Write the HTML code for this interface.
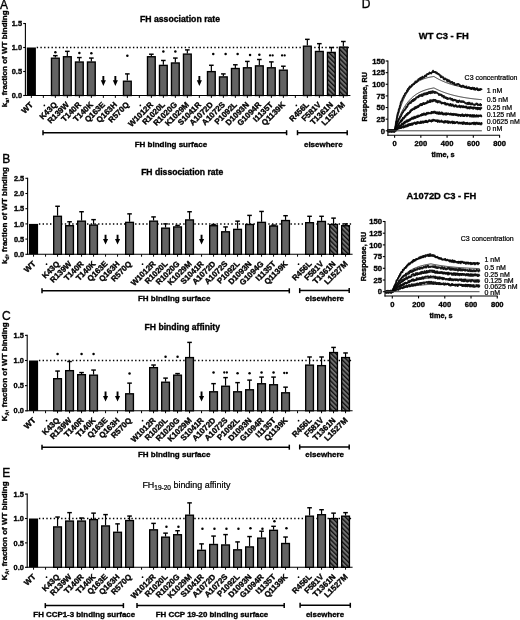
<!DOCTYPE html><html><head><meta charset="utf-8"><style>html,body{margin:0;padding:0;background:#fff;}svg{display:block;filter:grayscale(1) blur(0.3px);}text{font-family:"Liberation Sans", sans-serif;fill:#000;}text[font-weight="bold"]{stroke:#000;stroke-width:0.34px;} text[font-weight="normal"]{stroke:#000;stroke-width:0.22px;} text.big{stroke:#000;stroke-width:0.35px;}</style></head><body>
<svg width="520" height="620" viewBox="0 0 520 620">
<defs><pattern id="hatch" patternUnits="userSpaceOnUse" width="3.3" height="3.3" patternTransform="rotate(-45)"><rect width="3.3" height="3.3" fill="#707070"/><rect width="1.35" height="3.3" fill="#111"/></pattern></defs>
<rect width="520" height="620" fill="#fff"/>
<line x1="25.4" y1="23.00" x2="25.4" y2="96.00" stroke="#000" stroke-width="1.1"/>
<line x1="23.2" y1="95.50" x2="25.4" y2="95.50" stroke="#000" stroke-width="1.1"/>
<text x="22.00" y="98.10" font-size="7.4" font-weight="bold" text-anchor="end">0.0</text>
<line x1="23.2" y1="71.50" x2="25.4" y2="71.50" stroke="#000" stroke-width="1.1"/>
<text x="22.00" y="74.10" font-size="7.4" font-weight="bold" text-anchor="end">0.5</text>
<line x1="23.2" y1="47.50" x2="25.4" y2="47.50" stroke="#000" stroke-width="1.1"/>
<text x="22.00" y="50.10" font-size="7.4" font-weight="bold" text-anchor="end">1.0</text>
<line x1="23.2" y1="23.50" x2="25.4" y2="23.50" stroke="#000" stroke-width="1.1"/>
<text x="22.00" y="26.10" font-size="7.4" font-weight="bold" text-anchor="end">1.5</text>
<line x1="24.9" y1="95.50" x2="350.40" y2="95.50" stroke="#000" stroke-width="1.1"/>
<line x1="36.70" y1="47.50" x2="348.90" y2="47.50" stroke="#000" stroke-width="1.5" stroke-dasharray="1.4 2.3"/>
<line x1="31.35" y1="95.50" x2="31.35" y2="97.90" stroke="#000" stroke-width="1"/>
<text x="33.55" y="105.20" font-size="8.0" font-weight="bold" text-anchor="end" transform="rotate(-45 33.55 105.20)">WT</text>
<rect x="26.80" y="47.50" width="9.10" height="48.00" fill="#000"/>
<line x1="43.35" y1="95.50" x2="43.35" y2="97.90" stroke="#000" stroke-width="1"/>
<circle cx="44.35" cy="105.40" r="0.85" fill="#000"/>
<line x1="55.35" y1="95.50" x2="55.35" y2="97.90" stroke="#000" stroke-width="1"/>
<text x="57.55" y="105.20" font-size="8.0" font-weight="bold" text-anchor="end" transform="rotate(-45 57.55 105.20)">K43Q</text>
<line x1="55.35" y1="57.58" x2="55.35" y2="55.66" stroke="#000" stroke-width="1.2"/>
<line x1="53.05" y1="55.66" x2="57.65" y2="55.66" stroke="#000" stroke-width="1.45"/>
<rect x="51.48" y="58.18" width="7.74" height="37.32" fill="#636363" stroke="#000" stroke-width="1.36"/>
<circle cx="55.35" cy="52.20" r="1.25" fill="#000"/>
<line x1="67.35" y1="95.50" x2="67.35" y2="97.90" stroke="#000" stroke-width="1"/>
<text x="69.55" y="105.20" font-size="8.0" font-weight="bold" text-anchor="end" transform="rotate(-45 69.55 105.20)">R139W</text>
<line x1="67.35" y1="56.14" x2="67.35" y2="51.34" stroke="#000" stroke-width="1.2"/>
<line x1="65.05" y1="51.34" x2="69.65" y2="51.34" stroke="#000" stroke-width="1.45"/>
<rect x="63.48" y="56.74" width="7.74" height="38.76" fill="#636363" stroke="#000" stroke-width="1.36"/>
<line x1="79.35" y1="95.50" x2="79.35" y2="97.90" stroke="#000" stroke-width="1"/>
<text x="81.55" y="105.20" font-size="8.0" font-weight="bold" text-anchor="end" transform="rotate(-45 81.55 105.20)">T140R</text>
<line x1="79.35" y1="61.42" x2="79.35" y2="57.58" stroke="#000" stroke-width="1.2"/>
<line x1="77.05" y1="57.58" x2="81.65" y2="57.58" stroke="#000" stroke-width="1.45"/>
<rect x="75.48" y="62.02" width="7.74" height="33.48" fill="#636363" stroke="#000" stroke-width="1.36"/>
<circle cx="79.35" cy="53.00" r="1.25" fill="#000"/>
<line x1="91.35" y1="95.50" x2="91.35" y2="97.90" stroke="#000" stroke-width="1"/>
<text x="93.55" y="105.20" font-size="8.0" font-weight="bold" text-anchor="end" transform="rotate(-45 93.55 105.20)">T140K</text>
<line x1="91.35" y1="61.42" x2="91.35" y2="58.06" stroke="#000" stroke-width="1.2"/>
<line x1="89.05" y1="58.06" x2="93.65" y2="58.06" stroke="#000" stroke-width="1.45"/>
<rect x="87.48" y="62.02" width="7.74" height="33.48" fill="#636363" stroke="#000" stroke-width="1.36"/>
<circle cx="91.35" cy="53.30" r="1.25" fill="#000"/>
<line x1="103.35" y1="95.50" x2="103.35" y2="97.90" stroke="#000" stroke-width="1"/>
<text x="105.55" y="105.20" font-size="8.0" font-weight="bold" text-anchor="end" transform="rotate(-45 105.55 105.20)">Q163E</text>
<path d="M102.40 76.00 h1.9 v4.3 h1.6 l-2.55 5.6 l-2.55 -5.6 h1.6 z" fill="#000"/>
<line x1="115.35" y1="95.50" x2="115.35" y2="97.90" stroke="#000" stroke-width="1"/>
<text x="117.55" y="105.20" font-size="8.0" font-weight="bold" text-anchor="end" transform="rotate(-45 117.55 105.20)">Q163H</text>
<path d="M114.40 76.00 h1.9 v4.3 h1.6 l-2.55 5.6 l-2.55 -5.6 h1.6 z" fill="#000"/>
<line x1="127.35" y1="95.50" x2="127.35" y2="97.90" stroke="#000" stroke-width="1"/>
<text x="129.55" y="105.20" font-size="8.0" font-weight="bold" text-anchor="end" transform="rotate(-45 129.55 105.20)">R570Q</text>
<line x1="127.35" y1="80.62" x2="127.35" y2="73.90" stroke="#000" stroke-width="1.2"/>
<line x1="125.05" y1="73.90" x2="129.65" y2="73.90" stroke="#000" stroke-width="1.45"/>
<rect x="123.48" y="81.22" width="7.74" height="14.28" fill="#636363" stroke="#000" stroke-width="1.36"/>
<circle cx="127.35" cy="55.80" r="1.25" fill="#000"/>
<line x1="139.35" y1="95.50" x2="139.35" y2="97.90" stroke="#000" stroke-width="1"/>
<circle cx="140.35" cy="105.40" r="0.85" fill="#000"/>
<line x1="151.35" y1="95.50" x2="151.35" y2="97.90" stroke="#000" stroke-width="1"/>
<text x="153.55" y="105.20" font-size="8.0" font-weight="bold" text-anchor="end" transform="rotate(-45 153.55 105.20)">W1012R</text>
<line x1="151.35" y1="56.14" x2="151.35" y2="54.22" stroke="#000" stroke-width="1.2"/>
<line x1="149.05" y1="54.22" x2="153.65" y2="54.22" stroke="#000" stroke-width="1.45"/>
<rect x="147.48" y="56.74" width="7.74" height="38.76" fill="#636363" stroke="#000" stroke-width="1.36"/>
<line x1="163.35" y1="95.50" x2="163.35" y2="97.90" stroke="#000" stroke-width="1"/>
<text x="165.55" y="105.20" font-size="8.0" font-weight="bold" text-anchor="end" transform="rotate(-45 165.55 105.20)">R1020L</text>
<line x1="163.35" y1="64.78" x2="163.35" y2="60.46" stroke="#000" stroke-width="1.2"/>
<line x1="161.05" y1="60.46" x2="165.65" y2="60.46" stroke="#000" stroke-width="1.45"/>
<rect x="159.48" y="65.38" width="7.74" height="30.12" fill="#636363" stroke="#000" stroke-width="1.36"/>
<circle cx="163.35" cy="51.50" r="1.25" fill="#000"/>
<line x1="175.35" y1="95.50" x2="175.35" y2="97.90" stroke="#000" stroke-width="1"/>
<text x="177.55" y="105.20" font-size="8.0" font-weight="bold" text-anchor="end" transform="rotate(-45 177.55 105.20)">R1020G</text>
<line x1="175.35" y1="62.38" x2="175.35" y2="58.06" stroke="#000" stroke-width="1.2"/>
<line x1="173.05" y1="58.06" x2="177.65" y2="58.06" stroke="#000" stroke-width="1.45"/>
<rect x="171.48" y="62.98" width="7.74" height="32.52" fill="#636363" stroke="#000" stroke-width="1.36"/>
<circle cx="175.35" cy="51.50" r="1.25" fill="#000"/>
<line x1="187.35" y1="95.50" x2="187.35" y2="97.90" stroke="#000" stroke-width="1"/>
<text x="189.55" y="105.20" font-size="8.0" font-weight="bold" text-anchor="end" transform="rotate(-45 189.55 105.20)">K1029M</text>
<line x1="187.35" y1="53.50" x2="187.35" y2="49.90" stroke="#000" stroke-width="1.2"/>
<line x1="185.05" y1="49.90" x2="189.65" y2="49.90" stroke="#000" stroke-width="1.45"/>
<rect x="183.48" y="54.10" width="7.74" height="41.40" fill="#636363" stroke="#000" stroke-width="1.36"/>
<line x1="199.35" y1="95.50" x2="199.35" y2="97.90" stroke="#000" stroke-width="1"/>
<text x="201.55" y="105.20" font-size="8.0" font-weight="bold" text-anchor="end" transform="rotate(-45 201.55 105.20)">S1041R</text>
<path d="M198.40 76.00 h1.9 v4.3 h1.6 l-2.55 5.6 l-2.55 -5.6 h1.6 z" fill="#000"/>
<line x1="211.35" y1="95.50" x2="211.35" y2="97.90" stroke="#000" stroke-width="1"/>
<text x="213.55" y="105.20" font-size="8.0" font-weight="bold" text-anchor="end" transform="rotate(-45 213.55 105.20)">A1072D</text>
<line x1="211.35" y1="71.02" x2="211.35" y2="65.26" stroke="#000" stroke-width="1.2"/>
<line x1="209.05" y1="65.26" x2="213.65" y2="65.26" stroke="#000" stroke-width="1.45"/>
<rect x="207.48" y="71.62" width="7.74" height="23.88" fill="#636363" stroke="#000" stroke-width="1.36"/>
<circle cx="213.25" cy="54.10" r="1.25" fill="#000"/>
<line x1="223.35" y1="95.50" x2="223.35" y2="97.90" stroke="#000" stroke-width="1"/>
<text x="225.55" y="105.20" font-size="8.0" font-weight="bold" text-anchor="end" transform="rotate(-45 225.55 105.20)">A1072S</text>
<line x1="223.35" y1="76.30" x2="223.35" y2="73.90" stroke="#000" stroke-width="1.2"/>
<line x1="221.05" y1="73.90" x2="225.65" y2="73.90" stroke="#000" stroke-width="1.45"/>
<rect x="219.48" y="76.90" width="7.74" height="18.60" fill="#636363" stroke="#000" stroke-width="1.36"/>
<circle cx="225.65" cy="54.10" r="1.25" fill="#000"/>
<line x1="235.35" y1="95.50" x2="235.35" y2="97.90" stroke="#000" stroke-width="1"/>
<text x="237.55" y="105.20" font-size="8.0" font-weight="bold" text-anchor="end" transform="rotate(-45 237.55 105.20)">P1092L</text>
<line x1="235.35" y1="67.90" x2="235.35" y2="64.78" stroke="#000" stroke-width="1.2"/>
<line x1="233.05" y1="64.78" x2="237.65" y2="64.78" stroke="#000" stroke-width="1.45"/>
<rect x="231.48" y="68.50" width="7.74" height="27.00" fill="#636363" stroke="#000" stroke-width="1.36"/>
<circle cx="237.65" cy="54.10" r="1.25" fill="#000"/>
<line x1="247.35" y1="95.50" x2="247.35" y2="97.90" stroke="#000" stroke-width="1"/>
<text x="249.55" y="105.20" font-size="8.0" font-weight="bold" text-anchor="end" transform="rotate(-45 249.55 105.20)">D1093N</text>
<line x1="247.35" y1="67.18" x2="247.35" y2="61.42" stroke="#000" stroke-width="1.2"/>
<line x1="245.05" y1="61.42" x2="249.65" y2="61.42" stroke="#000" stroke-width="1.45"/>
<rect x="243.48" y="67.78" width="7.74" height="27.72" fill="#636363" stroke="#000" stroke-width="1.36"/>
<circle cx="250.05" cy="55.00" r="1.25" fill="#000"/>
<line x1="259.35" y1="95.50" x2="259.35" y2="97.90" stroke="#000" stroke-width="1"/>
<text x="261.55" y="105.20" font-size="8.0" font-weight="bold" text-anchor="end" transform="rotate(-45 261.55 105.20)">G1094R</text>
<line x1="259.35" y1="65.26" x2="259.35" y2="59.50" stroke="#000" stroke-width="1.2"/>
<line x1="257.05" y1="59.50" x2="261.65" y2="59.50" stroke="#000" stroke-width="1.45"/>
<rect x="255.48" y="65.86" width="7.74" height="29.64" fill="#636363" stroke="#000" stroke-width="1.36"/>
<circle cx="259.35" cy="54.70" r="1.25" fill="#000"/>
<line x1="271.35" y1="95.50" x2="271.35" y2="97.90" stroke="#000" stroke-width="1"/>
<text x="273.55" y="105.20" font-size="8.0" font-weight="bold" text-anchor="end" transform="rotate(-45 273.55 105.20)">I1135T</text>
<line x1="271.35" y1="67.18" x2="271.35" y2="61.90" stroke="#000" stroke-width="1.2"/>
<line x1="269.05" y1="61.90" x2="273.65" y2="61.90" stroke="#000" stroke-width="1.45"/>
<rect x="267.48" y="67.78" width="7.74" height="27.72" fill="#636363" stroke="#000" stroke-width="1.36"/>
<circle cx="270.05" cy="55.40" r="1.15" fill="#000"/>
<circle cx="272.65" cy="55.40" r="1.15" fill="#000"/>
<line x1="283.35" y1="95.50" x2="283.35" y2="97.90" stroke="#000" stroke-width="1"/>
<text x="285.55" y="105.20" font-size="8.0" font-weight="bold" text-anchor="end" transform="rotate(-45 285.55 105.20)">Q1139K</text>
<line x1="283.35" y1="69.58" x2="283.35" y2="66.22" stroke="#000" stroke-width="1.2"/>
<line x1="281.05" y1="66.22" x2="285.65" y2="66.22" stroke="#000" stroke-width="1.45"/>
<rect x="279.48" y="70.18" width="7.74" height="25.32" fill="#636363" stroke="#000" stroke-width="1.36"/>
<circle cx="282.05" cy="55.40" r="1.15" fill="#000"/>
<circle cx="284.65" cy="55.40" r="1.15" fill="#000"/>
<line x1="295.35" y1="95.50" x2="295.35" y2="97.90" stroke="#000" stroke-width="1"/>
<circle cx="296.35" cy="105.40" r="0.85" fill="#000"/>
<line x1="307.35" y1="95.50" x2="307.35" y2="97.90" stroke="#000" stroke-width="1"/>
<text x="309.55" y="105.20" font-size="8.0" font-weight="bold" text-anchor="end" transform="rotate(-45 309.55 105.20)">R456L</text>
<line x1="307.35" y1="45.58" x2="307.35" y2="39.34" stroke="#000" stroke-width="1.2"/>
<line x1="305.05" y1="39.34" x2="309.65" y2="39.34" stroke="#000" stroke-width="1.45"/>
<rect x="303.48" y="46.18" width="7.74" height="49.32" fill="#636363" stroke="#000" stroke-width="1.36"/>
<line x1="319.35" y1="95.50" x2="319.35" y2="97.90" stroke="#000" stroke-width="1"/>
<text x="321.55" y="105.20" font-size="8.0" font-weight="bold" text-anchor="end" transform="rotate(-45 321.55 105.20)">F581V</text>
<line x1="319.35" y1="50.86" x2="319.35" y2="43.66" stroke="#000" stroke-width="1.2"/>
<line x1="317.05" y1="43.66" x2="321.65" y2="43.66" stroke="#000" stroke-width="1.45"/>
<rect x="315.48" y="51.46" width="7.74" height="44.04" fill="#636363" stroke="#000" stroke-width="1.36"/>
<line x1="331.35" y1="95.50" x2="331.35" y2="97.90" stroke="#000" stroke-width="1"/>
<text x="333.55" y="105.20" font-size="8.0" font-weight="bold" text-anchor="end" transform="rotate(-45 333.55 105.20)">T1361N</text>
<line x1="331.35" y1="51.82" x2="331.35" y2="47.50" stroke="#000" stroke-width="1.2"/>
<line x1="329.05" y1="47.50" x2="333.65" y2="47.50" stroke="#000" stroke-width="1.45"/>
<rect x="327.48" y="52.42" width="7.74" height="43.08" fill="url(#hatch)" stroke="#000" stroke-width="1.36"/>
<line x1="343.35" y1="95.50" x2="343.35" y2="97.90" stroke="#000" stroke-width="1"/>
<text x="345.55" y="105.20" font-size="8.0" font-weight="bold" text-anchor="end" transform="rotate(-45 345.55 105.20)">L1527M</text>
<line x1="343.35" y1="46.54" x2="343.35" y2="41.50" stroke="#000" stroke-width="1.2"/>
<line x1="341.05" y1="41.50" x2="345.65" y2="41.50" stroke="#000" stroke-width="1.45"/>
<rect x="339.48" y="47.14" width="7.74" height="48.36" fill="url(#hatch)" stroke="#000" stroke-width="1.36"/>
<line x1="43.0" y1="132.7" x2="286.6" y2="132.7" stroke="#000" stroke-width="1.5"/>
<line x1="43.0" y1="130.2" x2="43.0" y2="135.2" stroke="#000" stroke-width="1.5"/>
<line x1="286.6" y1="130.2" x2="286.6" y2="135.2" stroke="#000" stroke-width="1.5"/>
<line x1="297.5" y1="132.7" x2="347.2" y2="132.7" stroke="#000" stroke-width="1.5"/>
<line x1="297.5" y1="130.2" x2="297.5" y2="135.2" stroke="#000" stroke-width="1.5"/>
<line x1="347.2" y1="130.2" x2="347.2" y2="135.2" stroke="#000" stroke-width="1.5"/>
<text x="170.90" y="146.80" font-size="8.0" font-weight="bold" text-anchor="middle">FH binding surface</text>
<text x="323.30" y="146.60" font-size="8.0" font-weight="bold" text-anchor="middle">elsewhere</text>
<text x="180.00" y="21.60" font-size="8.7" font-weight="bold" text-anchor="middle">FH association rate</text>
<text x="7.00" y="58.80" font-size="8.0" font-weight="bold" text-anchor="middle" transform="rotate(-90 7.00 58.80)">k<tspan font-size="5.2" dy="1.6">a</tspan><tspan dy="-1.6">, fraction of WT binding</tspan></text>
<text x="0.00" y="8.50" font-size="12" font-weight="normal" text-anchor="start" class="big">A</text>
<line x1="27.6" y1="177.80" x2="27.6" y2="254.80" stroke="#000" stroke-width="1.1"/>
<line x1="25.400000000000002" y1="254.30" x2="27.6" y2="254.30" stroke="#000" stroke-width="1.1"/>
<text x="24.20" y="256.90" font-size="7.4" font-weight="bold" text-anchor="end">0.0</text>
<line x1="25.400000000000002" y1="239.10" x2="27.6" y2="239.10" stroke="#000" stroke-width="1.1"/>
<text x="24.20" y="241.70" font-size="7.4" font-weight="bold" text-anchor="end">0.5</text>
<line x1="25.400000000000002" y1="223.90" x2="27.6" y2="223.90" stroke="#000" stroke-width="1.1"/>
<text x="24.20" y="226.50" font-size="7.4" font-weight="bold" text-anchor="end">1.0</text>
<line x1="25.400000000000002" y1="208.70" x2="27.6" y2="208.70" stroke="#000" stroke-width="1.1"/>
<text x="24.20" y="211.30" font-size="7.4" font-weight="bold" text-anchor="end">1.5</text>
<line x1="25.400000000000002" y1="193.50" x2="27.6" y2="193.50" stroke="#000" stroke-width="1.1"/>
<text x="24.20" y="196.10" font-size="7.4" font-weight="bold" text-anchor="end">2.0</text>
<line x1="25.400000000000002" y1="178.30" x2="27.6" y2="178.30" stroke="#000" stroke-width="1.1"/>
<text x="24.20" y="180.90" font-size="7.4" font-weight="bold" text-anchor="end">2.5</text>
<line x1="27.1" y1="254.30" x2="352.60" y2="254.30" stroke="#000" stroke-width="1.1"/>
<line x1="38.90" y1="223.90" x2="351.10" y2="223.90" stroke="#000" stroke-width="1.5" stroke-dasharray="1.4 2.3"/>
<line x1="33.55" y1="254.30" x2="33.55" y2="256.70" stroke="#000" stroke-width="1"/>
<text x="36.15" y="264.30" font-size="8.0" font-weight="bold" text-anchor="end" transform="rotate(-45 36.15 264.30)">WT</text>
<rect x="29.00" y="223.90" width="9.10" height="30.40" fill="#000"/>
<line x1="45.55" y1="254.30" x2="45.55" y2="256.70" stroke="#000" stroke-width="1"/>
<circle cx="46.55" cy="264.20" r="0.85" fill="#000"/>
<line x1="57.55" y1="254.30" x2="57.55" y2="256.70" stroke="#000" stroke-width="1"/>
<text x="60.15" y="264.30" font-size="8.0" font-weight="bold" text-anchor="end" transform="rotate(-45 60.15 264.30)">K43Q</text>
<line x1="57.55" y1="215.69" x2="57.55" y2="206.27" stroke="#000" stroke-width="1.2"/>
<line x1="55.25" y1="206.27" x2="59.85" y2="206.27" stroke="#000" stroke-width="1.45"/>
<rect x="53.68" y="216.29" width="7.74" height="38.01" fill="#636363" stroke="#000" stroke-width="1.36"/>
<line x1="69.55" y1="254.30" x2="69.55" y2="256.70" stroke="#000" stroke-width="1"/>
<text x="72.15" y="264.30" font-size="8.0" font-weight="bold" text-anchor="end" transform="rotate(-45 72.15 264.30)">R139W</text>
<line x1="69.55" y1="225.12" x2="69.55" y2="221.77" stroke="#000" stroke-width="1.2"/>
<line x1="67.25" y1="221.77" x2="71.85" y2="221.77" stroke="#000" stroke-width="1.45"/>
<rect x="65.68" y="225.72" width="7.74" height="28.58" fill="#636363" stroke="#000" stroke-width="1.36"/>
<line x1="81.55" y1="254.30" x2="81.55" y2="256.70" stroke="#000" stroke-width="1"/>
<text x="84.15" y="264.30" font-size="8.0" font-weight="bold" text-anchor="end" transform="rotate(-45 84.15 264.30)">T140R</text>
<line x1="81.55" y1="220.56" x2="81.55" y2="211.74" stroke="#000" stroke-width="1.2"/>
<line x1="79.25" y1="211.74" x2="83.85" y2="211.74" stroke="#000" stroke-width="1.45"/>
<rect x="77.68" y="221.16" width="7.74" height="33.14" fill="#636363" stroke="#000" stroke-width="1.36"/>
<line x1="93.55" y1="254.30" x2="93.55" y2="256.70" stroke="#000" stroke-width="1"/>
<text x="96.15" y="264.30" font-size="8.0" font-weight="bold" text-anchor="end" transform="rotate(-45 96.15 264.30)">T140K</text>
<line x1="93.55" y1="224.51" x2="93.55" y2="219.64" stroke="#000" stroke-width="1.2"/>
<line x1="91.25" y1="219.64" x2="95.85" y2="219.64" stroke="#000" stroke-width="1.45"/>
<rect x="89.68" y="225.11" width="7.74" height="29.19" fill="#636363" stroke="#000" stroke-width="1.36"/>
<line x1="105.55" y1="254.30" x2="105.55" y2="256.70" stroke="#000" stroke-width="1"/>
<text x="108.15" y="264.30" font-size="8.0" font-weight="bold" text-anchor="end" transform="rotate(-45 108.15 264.30)">Q163E</text>
<path d="M104.60 234.70 h1.9 v4.3 h1.6 l-2.55 5.6 l-2.55 -5.6 h1.6 z" fill="#000"/>
<line x1="117.55" y1="254.30" x2="117.55" y2="256.70" stroke="#000" stroke-width="1"/>
<text x="120.15" y="264.30" font-size="8.0" font-weight="bold" text-anchor="end" transform="rotate(-45 120.15 264.30)">Q163H</text>
<path d="M116.60 234.70 h1.9 v4.3 h1.6 l-2.55 5.6 l-2.55 -5.6 h1.6 z" fill="#000"/>
<line x1="129.55" y1="254.30" x2="129.55" y2="256.70" stroke="#000" stroke-width="1"/>
<text x="132.15" y="264.30" font-size="8.0" font-weight="bold" text-anchor="end" transform="rotate(-45 132.15 264.30)">R570Q</text>
<line x1="129.55" y1="221.77" x2="129.55" y2="213.87" stroke="#000" stroke-width="1.2"/>
<line x1="127.25" y1="213.87" x2="131.85" y2="213.87" stroke="#000" stroke-width="1.45"/>
<rect x="125.68" y="222.37" width="7.74" height="31.93" fill="#636363" stroke="#000" stroke-width="1.36"/>
<line x1="141.55" y1="254.30" x2="141.55" y2="256.70" stroke="#000" stroke-width="1"/>
<circle cx="142.55" cy="264.20" r="0.85" fill="#000"/>
<line x1="153.55" y1="254.30" x2="153.55" y2="256.70" stroke="#000" stroke-width="1"/>
<text x="156.15" y="264.30" font-size="8.0" font-weight="bold" text-anchor="end" transform="rotate(-45 156.15 264.30)">W1012R</text>
<line x1="153.55" y1="220.56" x2="153.55" y2="216.91" stroke="#000" stroke-width="1.2"/>
<line x1="151.25" y1="216.91" x2="155.85" y2="216.91" stroke="#000" stroke-width="1.45"/>
<rect x="149.68" y="221.16" width="7.74" height="33.14" fill="#636363" stroke="#000" stroke-width="1.36"/>
<line x1="165.55" y1="254.30" x2="165.55" y2="256.70" stroke="#000" stroke-width="1"/>
<text x="168.15" y="264.30" font-size="8.0" font-weight="bold" text-anchor="end" transform="rotate(-45 168.15 264.30)">R1020L</text>
<line x1="165.55" y1="227.55" x2="165.55" y2="223.90" stroke="#000" stroke-width="1.2"/>
<line x1="163.25" y1="223.90" x2="167.85" y2="223.90" stroke="#000" stroke-width="1.45"/>
<rect x="161.68" y="228.15" width="7.74" height="26.15" fill="#636363" stroke="#000" stroke-width="1.36"/>
<line x1="177.55" y1="254.30" x2="177.55" y2="256.70" stroke="#000" stroke-width="1"/>
<text x="180.15" y="264.30" font-size="8.0" font-weight="bold" text-anchor="end" transform="rotate(-45 180.15 264.30)">R1020G</text>
<line x1="177.55" y1="226.33" x2="177.55" y2="225.42" stroke="#000" stroke-width="1.2"/>
<line x1="175.25" y1="225.42" x2="179.85" y2="225.42" stroke="#000" stroke-width="1.45"/>
<rect x="173.68" y="226.93" width="7.74" height="27.37" fill="#636363" stroke="#000" stroke-width="1.36"/>
<line x1="189.55" y1="254.30" x2="189.55" y2="256.70" stroke="#000" stroke-width="1"/>
<text x="192.15" y="264.30" font-size="8.0" font-weight="bold" text-anchor="end" transform="rotate(-45 192.15 264.30)">K1029M</text>
<line x1="189.55" y1="219.34" x2="189.55" y2="211.74" stroke="#000" stroke-width="1.2"/>
<line x1="187.25" y1="211.74" x2="191.85" y2="211.74" stroke="#000" stroke-width="1.45"/>
<rect x="185.68" y="219.94" width="7.74" height="34.36" fill="#636363" stroke="#000" stroke-width="1.36"/>
<line x1="201.55" y1="254.30" x2="201.55" y2="256.70" stroke="#000" stroke-width="1"/>
<text x="204.15" y="264.30" font-size="8.0" font-weight="bold" text-anchor="end" transform="rotate(-45 204.15 264.30)">S1041R</text>
<path d="M200.60 234.70 h1.9 v4.3 h1.6 l-2.55 5.6 l-2.55 -5.6 h1.6 z" fill="#000"/>
<line x1="213.55" y1="254.30" x2="213.55" y2="256.70" stroke="#000" stroke-width="1"/>
<text x="216.15" y="264.30" font-size="8.0" font-weight="bold" text-anchor="end" transform="rotate(-45 216.15 264.30)">A1072D</text>
<line x1="213.55" y1="225.12" x2="213.55" y2="224.51" stroke="#000" stroke-width="1.2"/>
<line x1="211.25" y1="224.51" x2="215.85" y2="224.51" stroke="#000" stroke-width="1.45"/>
<rect x="209.68" y="225.72" width="7.74" height="28.58" fill="#636363" stroke="#000" stroke-width="1.36"/>
<line x1="225.55" y1="254.30" x2="225.55" y2="256.70" stroke="#000" stroke-width="1"/>
<text x="228.15" y="264.30" font-size="8.0" font-weight="bold" text-anchor="end" transform="rotate(-45 228.15 264.30)">A1072S</text>
<line x1="225.55" y1="231.20" x2="225.55" y2="226.94" stroke="#000" stroke-width="1.2"/>
<line x1="223.25" y1="226.94" x2="227.85" y2="226.94" stroke="#000" stroke-width="1.45"/>
<rect x="221.68" y="231.80" width="7.74" height="22.50" fill="#636363" stroke="#000" stroke-width="1.36"/>
<line x1="237.55" y1="254.30" x2="237.55" y2="256.70" stroke="#000" stroke-width="1"/>
<text x="240.15" y="264.30" font-size="8.0" font-weight="bold" text-anchor="end" transform="rotate(-45 240.15 264.30)">P1092L</text>
<line x1="237.55" y1="228.76" x2="237.55" y2="221.16" stroke="#000" stroke-width="1.2"/>
<line x1="235.25" y1="221.16" x2="239.85" y2="221.16" stroke="#000" stroke-width="1.45"/>
<rect x="233.68" y="229.36" width="7.74" height="24.94" fill="#636363" stroke="#000" stroke-width="1.36"/>
<line x1="249.55" y1="254.30" x2="249.55" y2="256.70" stroke="#000" stroke-width="1"/>
<text x="252.15" y="264.30" font-size="8.0" font-weight="bold" text-anchor="end" transform="rotate(-45 252.15 264.30)">D1093N</text>
<line x1="249.55" y1="223.90" x2="249.55" y2="215.39" stroke="#000" stroke-width="1.2"/>
<line x1="247.25" y1="215.39" x2="251.85" y2="215.39" stroke="#000" stroke-width="1.45"/>
<rect x="245.68" y="224.50" width="7.74" height="29.80" fill="#636363" stroke="#000" stroke-width="1.36"/>
<line x1="261.55" y1="254.30" x2="261.55" y2="256.70" stroke="#000" stroke-width="1"/>
<text x="264.15" y="264.30" font-size="8.0" font-weight="bold" text-anchor="end" transform="rotate(-45 264.15 264.30)">G1094G</text>
<line x1="261.55" y1="221.77" x2="261.55" y2="211.44" stroke="#000" stroke-width="1.2"/>
<line x1="259.25" y1="211.44" x2="263.85" y2="211.44" stroke="#000" stroke-width="1.45"/>
<rect x="257.68" y="222.37" width="7.74" height="31.93" fill="#636363" stroke="#000" stroke-width="1.36"/>
<line x1="273.55" y1="254.30" x2="273.55" y2="256.70" stroke="#000" stroke-width="1"/>
<text x="276.15" y="264.30" font-size="8.0" font-weight="bold" text-anchor="end" transform="rotate(-45 276.15 264.30)">I1135T</text>
<line x1="273.55" y1="225.42" x2="273.55" y2="225.12" stroke="#000" stroke-width="1.2"/>
<line x1="271.25" y1="225.12" x2="275.85" y2="225.12" stroke="#000" stroke-width="1.45"/>
<rect x="269.68" y="226.02" width="7.74" height="28.28" fill="#636363" stroke="#000" stroke-width="1.36"/>
<line x1="285.55" y1="254.30" x2="285.55" y2="256.70" stroke="#000" stroke-width="1"/>
<text x="288.15" y="264.30" font-size="8.0" font-weight="bold" text-anchor="end" transform="rotate(-45 288.15 264.30)">Q1139K</text>
<line x1="285.55" y1="219.95" x2="285.55" y2="215.69" stroke="#000" stroke-width="1.2"/>
<line x1="283.25" y1="215.69" x2="287.85" y2="215.69" stroke="#000" stroke-width="1.45"/>
<rect x="281.68" y="220.55" width="7.74" height="33.75" fill="#636363" stroke="#000" stroke-width="1.36"/>
<line x1="297.55" y1="254.30" x2="297.55" y2="256.70" stroke="#000" stroke-width="1"/>
<circle cx="298.55" cy="264.20" r="0.85" fill="#000"/>
<line x1="309.55" y1="254.30" x2="309.55" y2="256.70" stroke="#000" stroke-width="1"/>
<text x="312.15" y="264.30" font-size="8.0" font-weight="bold" text-anchor="end" transform="rotate(-45 312.15 264.30)">R456L</text>
<line x1="309.55" y1="222.08" x2="309.55" y2="216.30" stroke="#000" stroke-width="1.2"/>
<line x1="307.25" y1="216.30" x2="311.85" y2="216.30" stroke="#000" stroke-width="1.45"/>
<rect x="305.68" y="222.68" width="7.74" height="31.62" fill="#636363" stroke="#000" stroke-width="1.36"/>
<line x1="321.55" y1="254.30" x2="321.55" y2="256.70" stroke="#000" stroke-width="1"/>
<text x="324.15" y="264.30" font-size="8.0" font-weight="bold" text-anchor="end" transform="rotate(-45 324.15 264.30)">F581V</text>
<line x1="321.55" y1="220.86" x2="321.55" y2="216.30" stroke="#000" stroke-width="1.2"/>
<line x1="319.25" y1="216.30" x2="323.85" y2="216.30" stroke="#000" stroke-width="1.45"/>
<rect x="317.68" y="221.46" width="7.74" height="32.84" fill="#636363" stroke="#000" stroke-width="1.36"/>
<line x1="333.55" y1="254.30" x2="333.55" y2="256.70" stroke="#000" stroke-width="1"/>
<text x="336.15" y="264.30" font-size="8.0" font-weight="bold" text-anchor="end" transform="rotate(-45 336.15 264.30)">T1361N</text>
<line x1="333.55" y1="223.90" x2="333.55" y2="218.12" stroke="#000" stroke-width="1.2"/>
<line x1="331.25" y1="218.12" x2="335.85" y2="218.12" stroke="#000" stroke-width="1.45"/>
<rect x="329.68" y="224.50" width="7.74" height="29.80" fill="url(#hatch)" stroke="#000" stroke-width="1.36"/>
<line x1="345.55" y1="254.30" x2="345.55" y2="256.70" stroke="#000" stroke-width="1"/>
<text x="348.15" y="264.30" font-size="8.0" font-weight="bold" text-anchor="end" transform="rotate(-45 348.15 264.30)">L1527M</text>
<line x1="345.55" y1="225.12" x2="345.55" y2="223.90" stroke="#000" stroke-width="1.2"/>
<line x1="343.25" y1="223.90" x2="347.85" y2="223.90" stroke="#000" stroke-width="1.45"/>
<rect x="341.68" y="225.72" width="7.74" height="28.58" fill="url(#hatch)" stroke="#000" stroke-width="1.36"/>
<line x1="42.0" y1="290.8" x2="289.3" y2="290.8" stroke="#000" stroke-width="1.5"/>
<line x1="42.0" y1="288.3" x2="42.0" y2="293.3" stroke="#000" stroke-width="1.5"/>
<line x1="289.3" y1="288.3" x2="289.3" y2="293.3" stroke="#000" stroke-width="1.5"/>
<line x1="299.7" y1="290.6" x2="349.2" y2="290.6" stroke="#000" stroke-width="1.5"/>
<line x1="299.7" y1="288.1" x2="299.7" y2="293.1" stroke="#000" stroke-width="1.5"/>
<line x1="349.2" y1="288.1" x2="349.2" y2="293.1" stroke="#000" stroke-width="1.5"/>
<text x="174.20" y="300.90" font-size="8.0" font-weight="bold" text-anchor="middle">FH binding surface</text>
<text x="324.70" y="300.60" font-size="8.0" font-weight="bold" text-anchor="middle">elsewhere</text>
<text x="182.20" y="174.90" font-size="8.6" font-weight="bold" text-anchor="middle">FH dissociation rate</text>
<text x="7.30" y="215.50" font-size="8.0" font-weight="bold" text-anchor="middle" transform="rotate(-90 7.30 215.50)">k<tspan font-size="5.2" dy="1.6">d</tspan><tspan dy="-1.6">, fraction of WT binding</tspan></text>
<text x="2.30" y="162.80" font-size="12" font-weight="normal" text-anchor="start" class="big">B</text>
<line x1="27.2" y1="334.85" x2="27.2" y2="411.30" stroke="#000" stroke-width="1.1"/>
<line x1="25.0" y1="410.80" x2="27.2" y2="410.80" stroke="#000" stroke-width="1.1"/>
<text x="23.80" y="413.40" font-size="7.4" font-weight="bold" text-anchor="end">0.0</text>
<line x1="25.0" y1="385.65" x2="27.2" y2="385.65" stroke="#000" stroke-width="1.1"/>
<text x="23.80" y="388.25" font-size="7.4" font-weight="bold" text-anchor="end">0.5</text>
<line x1="25.0" y1="360.50" x2="27.2" y2="360.50" stroke="#000" stroke-width="1.1"/>
<text x="23.80" y="363.10" font-size="7.4" font-weight="bold" text-anchor="end">1.0</text>
<line x1="25.0" y1="335.35" x2="27.2" y2="335.35" stroke="#000" stroke-width="1.1"/>
<text x="23.80" y="337.95" font-size="7.4" font-weight="bold" text-anchor="end">1.5</text>
<line x1="26.7" y1="410.80" x2="352.60" y2="410.80" stroke="#000" stroke-width="1.1"/>
<line x1="38.90" y1="360.50" x2="351.10" y2="360.50" stroke="#000" stroke-width="1.5" stroke-dasharray="1.4 2.3"/>
<line x1="33.55" y1="410.80" x2="33.55" y2="413.20" stroke="#000" stroke-width="1"/>
<text x="36.15" y="420.80" font-size="8.0" font-weight="bold" text-anchor="end" transform="rotate(-45 36.15 420.80)">WT</text>
<rect x="29.00" y="360.50" width="9.10" height="50.30" fill="#000"/>
<line x1="45.55" y1="410.80" x2="45.55" y2="413.20" stroke="#000" stroke-width="1"/>
<circle cx="46.55" cy="420.70" r="0.85" fill="#000"/>
<line x1="57.55" y1="410.80" x2="57.55" y2="413.20" stroke="#000" stroke-width="1"/>
<text x="60.15" y="420.80" font-size="8.0" font-weight="bold" text-anchor="end" transform="rotate(-45 60.15 420.80)">K43Q</text>
<line x1="57.55" y1="378.11" x2="57.55" y2="371.06" stroke="#000" stroke-width="1.2"/>
<line x1="55.25" y1="371.06" x2="59.85" y2="371.06" stroke="#000" stroke-width="1.45"/>
<rect x="53.68" y="378.71" width="7.74" height="32.09" fill="#636363" stroke="#000" stroke-width="1.36"/>
<circle cx="57.55" cy="354.00" r="1.25" fill="#000"/>
<line x1="69.55" y1="410.80" x2="69.55" y2="413.20" stroke="#000" stroke-width="1"/>
<text x="72.15" y="420.80" font-size="8.0" font-weight="bold" text-anchor="end" transform="rotate(-45 72.15 420.80)">R139W</text>
<line x1="69.55" y1="370.06" x2="69.55" y2="361.51" stroke="#000" stroke-width="1.2"/>
<line x1="67.25" y1="361.51" x2="71.85" y2="361.51" stroke="#000" stroke-width="1.45"/>
<rect x="65.68" y="370.66" width="7.74" height="40.14" fill="#636363" stroke="#000" stroke-width="1.36"/>
<line x1="81.55" y1="410.80" x2="81.55" y2="413.20" stroke="#000" stroke-width="1"/>
<text x="84.15" y="420.80" font-size="8.0" font-weight="bold" text-anchor="end" transform="rotate(-45 84.15 420.80)">T140R</text>
<line x1="81.55" y1="374.08" x2="81.55" y2="372.57" stroke="#000" stroke-width="1.2"/>
<line x1="79.25" y1="372.57" x2="83.85" y2="372.57" stroke="#000" stroke-width="1.45"/>
<rect x="77.68" y="374.68" width="7.74" height="36.12" fill="#636363" stroke="#000" stroke-width="1.36"/>
<circle cx="81.55" cy="354.00" r="1.25" fill="#000"/>
<line x1="93.55" y1="410.80" x2="93.55" y2="413.20" stroke="#000" stroke-width="1"/>
<text x="96.15" y="420.80" font-size="8.0" font-weight="bold" text-anchor="end" transform="rotate(-45 96.15 420.80)">T140K</text>
<line x1="93.55" y1="374.58" x2="93.55" y2="370.06" stroke="#000" stroke-width="1.2"/>
<line x1="91.25" y1="370.06" x2="95.85" y2="370.06" stroke="#000" stroke-width="1.45"/>
<rect x="89.68" y="375.18" width="7.74" height="35.62" fill="#636363" stroke="#000" stroke-width="1.36"/>
<circle cx="93.55" cy="354.00" r="1.25" fill="#000"/>
<line x1="105.55" y1="410.80" x2="105.55" y2="413.20" stroke="#000" stroke-width="1"/>
<text x="108.15" y="420.80" font-size="8.0" font-weight="bold" text-anchor="end" transform="rotate(-45 108.15 420.80)">Q163E</text>
<path d="M104.60 391.60 h1.9 v4.3 h1.6 l-2.55 5.6 l-2.55 -5.6 h1.6 z" fill="#000"/>
<line x1="117.55" y1="410.80" x2="117.55" y2="413.20" stroke="#000" stroke-width="1"/>
<text x="120.15" y="420.80" font-size="8.0" font-weight="bold" text-anchor="end" transform="rotate(-45 120.15 420.80)">Q163H</text>
<path d="M116.60 391.60 h1.9 v4.3 h1.6 l-2.55 5.6 l-2.55 -5.6 h1.6 z" fill="#000"/>
<line x1="129.55" y1="410.80" x2="129.55" y2="413.20" stroke="#000" stroke-width="1"/>
<text x="132.15" y="420.80" font-size="8.0" font-weight="bold" text-anchor="end" transform="rotate(-45 132.15 420.80)">R570Q</text>
<line x1="129.55" y1="393.19" x2="129.55" y2="383.13" stroke="#000" stroke-width="1.2"/>
<line x1="127.25" y1="383.13" x2="131.85" y2="383.13" stroke="#000" stroke-width="1.45"/>
<rect x="125.68" y="393.80" width="7.74" height="17.01" fill="#636363" stroke="#000" stroke-width="1.36"/>
<circle cx="129.55" cy="373.40" r="1.25" fill="#000"/>
<line x1="141.55" y1="410.80" x2="141.55" y2="413.20" stroke="#000" stroke-width="1"/>
<circle cx="142.55" cy="420.70" r="0.85" fill="#000"/>
<line x1="153.55" y1="410.80" x2="153.55" y2="413.20" stroke="#000" stroke-width="1"/>
<text x="156.15" y="420.80" font-size="8.0" font-weight="bold" text-anchor="end" transform="rotate(-45 156.15 420.80)">W1012R</text>
<line x1="153.55" y1="367.04" x2="153.55" y2="365.03" stroke="#000" stroke-width="1.2"/>
<line x1="151.25" y1="365.03" x2="155.85" y2="365.03" stroke="#000" stroke-width="1.45"/>
<rect x="149.68" y="367.64" width="7.74" height="43.16" fill="#636363" stroke="#000" stroke-width="1.36"/>
<line x1="165.55" y1="410.80" x2="165.55" y2="413.20" stroke="#000" stroke-width="1"/>
<text x="168.15" y="420.80" font-size="8.0" font-weight="bold" text-anchor="end" transform="rotate(-45 168.15 420.80)">R1020L</text>
<line x1="165.55" y1="381.63" x2="165.55" y2="378.11" stroke="#000" stroke-width="1.2"/>
<line x1="163.25" y1="378.11" x2="167.85" y2="378.11" stroke="#000" stroke-width="1.45"/>
<rect x="161.68" y="382.23" width="7.74" height="28.57" fill="#636363" stroke="#000" stroke-width="1.36"/>
<circle cx="165.55" cy="356.80" r="1.25" fill="#000"/>
<line x1="177.55" y1="410.80" x2="177.55" y2="413.20" stroke="#000" stroke-width="1"/>
<text x="180.15" y="420.80" font-size="8.0" font-weight="bold" text-anchor="end" transform="rotate(-45 180.15 420.80)">R1020G</text>
<line x1="177.55" y1="374.58" x2="177.55" y2="373.58" stroke="#000" stroke-width="1.2"/>
<line x1="175.25" y1="373.58" x2="179.85" y2="373.58" stroke="#000" stroke-width="1.45"/>
<rect x="173.68" y="375.18" width="7.74" height="35.62" fill="#636363" stroke="#000" stroke-width="1.36"/>
<circle cx="177.55" cy="356.80" r="1.25" fill="#000"/>
<line x1="189.55" y1="410.80" x2="189.55" y2="413.20" stroke="#000" stroke-width="1"/>
<text x="192.15" y="420.80" font-size="8.0" font-weight="bold" text-anchor="end" transform="rotate(-45 192.15 420.80)">K1029M</text>
<line x1="189.55" y1="356.98" x2="189.55" y2="342.39" stroke="#000" stroke-width="1.2"/>
<line x1="187.25" y1="342.39" x2="191.85" y2="342.39" stroke="#000" stroke-width="1.45"/>
<rect x="185.68" y="357.58" width="7.74" height="53.22" fill="#636363" stroke="#000" stroke-width="1.36"/>
<line x1="201.55" y1="410.80" x2="201.55" y2="413.20" stroke="#000" stroke-width="1"/>
<text x="204.15" y="420.80" font-size="8.0" font-weight="bold" text-anchor="end" transform="rotate(-45 204.15 420.80)">S1041R</text>
<path d="M200.60 391.60 h1.9 v4.3 h1.6 l-2.55 5.6 l-2.55 -5.6 h1.6 z" fill="#000"/>
<line x1="213.55" y1="410.80" x2="213.55" y2="413.20" stroke="#000" stroke-width="1"/>
<text x="216.15" y="420.80" font-size="8.0" font-weight="bold" text-anchor="end" transform="rotate(-45 216.15 420.80)">A1072D</text>
<line x1="213.55" y1="391.18" x2="213.55" y2="383.64" stroke="#000" stroke-width="1.2"/>
<line x1="211.25" y1="383.64" x2="215.85" y2="383.64" stroke="#000" stroke-width="1.45"/>
<rect x="209.68" y="391.78" width="7.74" height="19.02" fill="#636363" stroke="#000" stroke-width="1.36"/>
<circle cx="213.55" cy="372.50" r="1.25" fill="#000"/>
<line x1="225.55" y1="410.80" x2="225.55" y2="413.20" stroke="#000" stroke-width="1"/>
<text x="228.15" y="420.80" font-size="8.0" font-weight="bold" text-anchor="end" transform="rotate(-45 228.15 420.80)">A1072S</text>
<line x1="225.55" y1="385.65" x2="225.55" y2="377.60" stroke="#000" stroke-width="1.2"/>
<line x1="223.25" y1="377.60" x2="227.85" y2="377.60" stroke="#000" stroke-width="1.45"/>
<rect x="221.68" y="386.25" width="7.74" height="24.55" fill="#636363" stroke="#000" stroke-width="1.36"/>
<circle cx="224.25" cy="372.50" r="1.15" fill="#000"/>
<circle cx="226.85" cy="372.50" r="1.15" fill="#000"/>
<line x1="237.55" y1="410.80" x2="237.55" y2="413.20" stroke="#000" stroke-width="1"/>
<text x="240.15" y="420.80" font-size="8.0" font-weight="bold" text-anchor="end" transform="rotate(-45 240.15 420.80)">P1092L</text>
<line x1="237.55" y1="391.18" x2="237.55" y2="382.63" stroke="#000" stroke-width="1.2"/>
<line x1="235.25" y1="382.63" x2="239.85" y2="382.63" stroke="#000" stroke-width="1.45"/>
<rect x="233.68" y="391.78" width="7.74" height="19.02" fill="#636363" stroke="#000" stroke-width="1.36"/>
<circle cx="237.55" cy="373.30" r="1.25" fill="#000"/>
<line x1="249.55" y1="410.80" x2="249.55" y2="413.20" stroke="#000" stroke-width="1"/>
<text x="252.15" y="420.80" font-size="8.0" font-weight="bold" text-anchor="end" transform="rotate(-45 252.15 420.80)">D1093N</text>
<line x1="249.55" y1="389.17" x2="249.55" y2="380.12" stroke="#000" stroke-width="1.2"/>
<line x1="247.25" y1="380.12" x2="251.85" y2="380.12" stroke="#000" stroke-width="1.45"/>
<rect x="245.68" y="389.77" width="7.74" height="21.03" fill="#636363" stroke="#000" stroke-width="1.36"/>
<circle cx="249.55" cy="373.30" r="1.25" fill="#000"/>
<line x1="261.55" y1="410.80" x2="261.55" y2="413.20" stroke="#000" stroke-width="1"/>
<text x="264.15" y="420.80" font-size="8.0" font-weight="bold" text-anchor="end" transform="rotate(-45 264.15 420.80)">G1094R</text>
<line x1="261.55" y1="383.13" x2="261.55" y2="377.10" stroke="#000" stroke-width="1.2"/>
<line x1="259.25" y1="377.10" x2="263.85" y2="377.10" stroke="#000" stroke-width="1.45"/>
<rect x="257.68" y="383.74" width="7.74" height="27.07" fill="#636363" stroke="#000" stroke-width="1.36"/>
<circle cx="261.55" cy="372.50" r="1.25" fill="#000"/>
<line x1="273.55" y1="410.80" x2="273.55" y2="413.20" stroke="#000" stroke-width="1"/>
<text x="276.15" y="420.80" font-size="8.0" font-weight="bold" text-anchor="end" transform="rotate(-45 276.15 420.80)">I1135T</text>
<line x1="273.55" y1="384.14" x2="273.55" y2="377.10" stroke="#000" stroke-width="1.2"/>
<line x1="271.25" y1="377.10" x2="275.85" y2="377.10" stroke="#000" stroke-width="1.45"/>
<rect x="269.68" y="384.74" width="7.74" height="26.06" fill="#636363" stroke="#000" stroke-width="1.36"/>
<circle cx="273.55" cy="372.50" r="1.25" fill="#000"/>
<line x1="285.55" y1="410.80" x2="285.55" y2="413.20" stroke="#000" stroke-width="1"/>
<text x="288.15" y="420.80" font-size="8.0" font-weight="bold" text-anchor="end" transform="rotate(-45 288.15 420.80)">Q1139K</text>
<line x1="285.55" y1="392.19" x2="285.55" y2="387.16" stroke="#000" stroke-width="1.2"/>
<line x1="283.25" y1="387.16" x2="287.85" y2="387.16" stroke="#000" stroke-width="1.45"/>
<rect x="281.68" y="392.79" width="7.74" height="18.01" fill="#636363" stroke="#000" stroke-width="1.36"/>
<circle cx="284.25" cy="373.00" r="1.15" fill="#000"/>
<circle cx="286.85" cy="373.00" r="1.15" fill="#000"/>
<line x1="297.55" y1="410.80" x2="297.55" y2="413.20" stroke="#000" stroke-width="1"/>
<circle cx="298.55" cy="420.70" r="0.85" fill="#000"/>
<line x1="309.55" y1="410.80" x2="309.55" y2="413.20" stroke="#000" stroke-width="1"/>
<text x="312.15" y="420.80" font-size="8.0" font-weight="bold" text-anchor="end" transform="rotate(-45 312.15 420.80)">R456L</text>
<line x1="309.55" y1="364.52" x2="309.55" y2="356.98" stroke="#000" stroke-width="1.2"/>
<line x1="307.25" y1="356.98" x2="311.85" y2="356.98" stroke="#000" stroke-width="1.45"/>
<rect x="305.68" y="365.12" width="7.74" height="45.68" fill="#636363" stroke="#000" stroke-width="1.36"/>
<line x1="321.55" y1="410.80" x2="321.55" y2="413.20" stroke="#000" stroke-width="1"/>
<text x="324.15" y="420.80" font-size="8.0" font-weight="bold" text-anchor="end" transform="rotate(-45 324.15 420.80)">F581V</text>
<line x1="321.55" y1="365.03" x2="321.55" y2="356.98" stroke="#000" stroke-width="1.2"/>
<line x1="319.25" y1="356.98" x2="323.85" y2="356.98" stroke="#000" stroke-width="1.45"/>
<rect x="317.68" y="365.63" width="7.74" height="45.17" fill="#636363" stroke="#000" stroke-width="1.36"/>
<line x1="333.55" y1="410.80" x2="333.55" y2="413.20" stroke="#000" stroke-width="1"/>
<text x="336.15" y="420.80" font-size="8.0" font-weight="bold" text-anchor="end" transform="rotate(-45 336.15 420.80)">T1361N</text>
<line x1="333.55" y1="351.95" x2="333.55" y2="347.42" stroke="#000" stroke-width="1.2"/>
<line x1="331.25" y1="347.42" x2="335.85" y2="347.42" stroke="#000" stroke-width="1.45"/>
<rect x="329.68" y="352.55" width="7.74" height="58.25" fill="url(#hatch)" stroke="#000" stroke-width="1.36"/>
<line x1="345.55" y1="410.80" x2="345.55" y2="413.20" stroke="#000" stroke-width="1"/>
<text x="348.15" y="420.80" font-size="8.0" font-weight="bold" text-anchor="end" transform="rotate(-45 348.15 420.80)">L1527M</text>
<line x1="345.55" y1="356.98" x2="345.55" y2="352.96" stroke="#000" stroke-width="1.2"/>
<line x1="343.25" y1="352.96" x2="347.85" y2="352.96" stroke="#000" stroke-width="1.45"/>
<rect x="341.68" y="357.58" width="7.74" height="53.22" fill="url(#hatch)" stroke="#000" stroke-width="1.36"/>
<line x1="42.0" y1="447.2" x2="289.3" y2="447.2" stroke="#000" stroke-width="1.5"/>
<line x1="42.0" y1="444.7" x2="42.0" y2="449.7" stroke="#000" stroke-width="1.5"/>
<line x1="289.3" y1="444.7" x2="289.3" y2="449.7" stroke="#000" stroke-width="1.5"/>
<line x1="299.7" y1="447.0" x2="349.2" y2="447.0" stroke="#000" stroke-width="1.5"/>
<line x1="299.7" y1="444.5" x2="299.7" y2="449.5" stroke="#000" stroke-width="1.5"/>
<line x1="349.2" y1="444.5" x2="349.2" y2="449.5" stroke="#000" stroke-width="1.5"/>
<text x="174.20" y="457.30" font-size="8.0" font-weight="bold" text-anchor="middle">FH binding surface</text>
<text x="324.70" y="457.10" font-size="8.0" font-weight="bold" text-anchor="middle">elsewhere</text>
<text x="182.30" y="330.30" font-size="8.6" font-weight="bold" text-anchor="middle">FH binding affinity</text>
<text x="7.30" y="371.80" font-size="8.0" font-weight="bold" text-anchor="middle" transform="rotate(-90 7.30 371.80)">K<tspan font-size="5.2" dy="1.6">A</tspan><tspan dy="-1.6">, fraction of WT binding</tspan></text>
<text x="2.00" y="319.60" font-size="12" font-weight="normal" text-anchor="start" class="big">C</text>
<line x1="27.2" y1="493.60" x2="27.2" y2="567.80" stroke="#000" stroke-width="1.1"/>
<line x1="25.0" y1="567.30" x2="27.2" y2="567.30" stroke="#000" stroke-width="1.1"/>
<text x="23.80" y="569.90" font-size="7.4" font-weight="bold" text-anchor="end">0.0</text>
<line x1="25.0" y1="542.90" x2="27.2" y2="542.90" stroke="#000" stroke-width="1.1"/>
<text x="23.80" y="545.50" font-size="7.4" font-weight="bold" text-anchor="end">0.5</text>
<line x1="25.0" y1="518.50" x2="27.2" y2="518.50" stroke="#000" stroke-width="1.1"/>
<text x="23.80" y="521.10" font-size="7.4" font-weight="bold" text-anchor="end">1.0</text>
<line x1="25.0" y1="494.10" x2="27.2" y2="494.10" stroke="#000" stroke-width="1.1"/>
<text x="23.80" y="496.70" font-size="7.4" font-weight="bold" text-anchor="end">1.5</text>
<line x1="26.7" y1="567.30" x2="352.60" y2="567.30" stroke="#000" stroke-width="1.1"/>
<line x1="38.90" y1="518.50" x2="351.10" y2="518.50" stroke="#000" stroke-width="1.5" stroke-dasharray="1.4 2.3"/>
<line x1="33.55" y1="567.30" x2="33.55" y2="569.70" stroke="#000" stroke-width="1"/>
<text x="36.15" y="577.30" font-size="8.0" font-weight="bold" text-anchor="end" transform="rotate(-45 36.15 577.30)">WT</text>
<rect x="29.00" y="518.50" width="9.10" height="48.80" fill="#000"/>
<line x1="45.55" y1="567.30" x2="45.55" y2="569.70" stroke="#000" stroke-width="1"/>
<circle cx="46.55" cy="577.20" r="0.85" fill="#000"/>
<line x1="57.55" y1="567.30" x2="57.55" y2="569.70" stroke="#000" stroke-width="1"/>
<text x="60.15" y="577.30" font-size="8.0" font-weight="bold" text-anchor="end" transform="rotate(-45 60.15 577.30)">K43Q</text>
<line x1="57.55" y1="526.31" x2="57.55" y2="517.04" stroke="#000" stroke-width="1.2"/>
<line x1="55.25" y1="517.04" x2="59.85" y2="517.04" stroke="#000" stroke-width="1.45"/>
<rect x="53.68" y="526.91" width="7.74" height="40.39" fill="#636363" stroke="#000" stroke-width="1.36"/>
<line x1="69.55" y1="567.30" x2="69.55" y2="569.70" stroke="#000" stroke-width="1"/>
<text x="72.15" y="577.30" font-size="8.0" font-weight="bold" text-anchor="end" transform="rotate(-45 72.15 577.30)">R139W</text>
<line x1="69.55" y1="520.45" x2="69.55" y2="512.64" stroke="#000" stroke-width="1.2"/>
<line x1="67.25" y1="512.64" x2="71.85" y2="512.64" stroke="#000" stroke-width="1.45"/>
<rect x="65.68" y="521.05" width="7.74" height="46.25" fill="#636363" stroke="#000" stroke-width="1.36"/>
<line x1="81.55" y1="567.30" x2="81.55" y2="569.70" stroke="#000" stroke-width="1"/>
<text x="84.15" y="577.30" font-size="8.0" font-weight="bold" text-anchor="end" transform="rotate(-45 84.15 577.30)">T140R</text>
<line x1="81.55" y1="520.45" x2="81.55" y2="518.01" stroke="#000" stroke-width="1.2"/>
<line x1="79.25" y1="518.01" x2="83.85" y2="518.01" stroke="#000" stroke-width="1.45"/>
<rect x="77.68" y="521.05" width="7.74" height="46.25" fill="#636363" stroke="#000" stroke-width="1.36"/>
<line x1="93.55" y1="567.30" x2="93.55" y2="569.70" stroke="#000" stroke-width="1"/>
<text x="96.15" y="577.30" font-size="8.0" font-weight="bold" text-anchor="end" transform="rotate(-45 96.15 577.30)">T140K</text>
<line x1="93.55" y1="518.99" x2="93.55" y2="513.13" stroke="#000" stroke-width="1.2"/>
<line x1="91.25" y1="513.13" x2="95.85" y2="513.13" stroke="#000" stroke-width="1.45"/>
<rect x="89.68" y="519.59" width="7.74" height="47.71" fill="#636363" stroke="#000" stroke-width="1.36"/>
<line x1="105.55" y1="567.30" x2="105.55" y2="569.70" stroke="#000" stroke-width="1"/>
<text x="108.15" y="577.30" font-size="8.0" font-weight="bold" text-anchor="end" transform="rotate(-45 108.15 577.30)">Q163E</text>
<line x1="105.55" y1="525.33" x2="105.55" y2="514.60" stroke="#000" stroke-width="1.2"/>
<line x1="103.25" y1="514.60" x2="107.85" y2="514.60" stroke="#000" stroke-width="1.45"/>
<rect x="101.68" y="525.93" width="7.74" height="41.37" fill="#636363" stroke="#000" stroke-width="1.36"/>
<line x1="117.55" y1="567.30" x2="117.55" y2="569.70" stroke="#000" stroke-width="1"/>
<text x="120.15" y="577.30" font-size="8.0" font-weight="bold" text-anchor="end" transform="rotate(-45 120.15 577.30)">Q163H</text>
<line x1="117.55" y1="531.68" x2="117.55" y2="523.87" stroke="#000" stroke-width="1.2"/>
<line x1="115.25" y1="523.87" x2="119.85" y2="523.87" stroke="#000" stroke-width="1.45"/>
<rect x="113.68" y="532.28" width="7.74" height="35.02" fill="#636363" stroke="#000" stroke-width="1.36"/>
<line x1="129.55" y1="567.30" x2="129.55" y2="569.70" stroke="#000" stroke-width="1"/>
<text x="132.15" y="577.30" font-size="8.0" font-weight="bold" text-anchor="end" transform="rotate(-45 132.15 577.30)">R570Q</text>
<line x1="129.55" y1="519.96" x2="129.55" y2="516.06" stroke="#000" stroke-width="1.2"/>
<line x1="127.25" y1="516.06" x2="131.85" y2="516.06" stroke="#000" stroke-width="1.45"/>
<rect x="125.68" y="520.56" width="7.74" height="46.74" fill="#636363" stroke="#000" stroke-width="1.36"/>
<line x1="141.55" y1="567.30" x2="141.55" y2="569.70" stroke="#000" stroke-width="1"/>
<circle cx="142.55" cy="577.20" r="0.85" fill="#000"/>
<line x1="153.55" y1="567.30" x2="153.55" y2="569.70" stroke="#000" stroke-width="1"/>
<text x="156.15" y="577.30" font-size="8.0" font-weight="bold" text-anchor="end" transform="rotate(-45 156.15 577.30)">W1012R</text>
<line x1="153.55" y1="529.24" x2="153.55" y2="523.38" stroke="#000" stroke-width="1.2"/>
<line x1="151.25" y1="523.38" x2="155.85" y2="523.38" stroke="#000" stroke-width="1.45"/>
<rect x="149.68" y="529.84" width="7.74" height="37.46" fill="#636363" stroke="#000" stroke-width="1.36"/>
<line x1="165.55" y1="567.30" x2="165.55" y2="569.70" stroke="#000" stroke-width="1"/>
<text x="168.15" y="577.30" font-size="8.0" font-weight="bold" text-anchor="end" transform="rotate(-45 168.15 577.30)">R1020L</text>
<line x1="165.55" y1="536.56" x2="165.55" y2="533.14" stroke="#000" stroke-width="1.2"/>
<line x1="163.25" y1="533.14" x2="167.85" y2="533.14" stroke="#000" stroke-width="1.45"/>
<rect x="161.68" y="537.16" width="7.74" height="30.14" fill="#636363" stroke="#000" stroke-width="1.36"/>
<circle cx="166.45" cy="526.80" r="1.25" fill="#000"/>
<line x1="177.55" y1="567.30" x2="177.55" y2="569.70" stroke="#000" stroke-width="1"/>
<text x="180.15" y="577.30" font-size="8.0" font-weight="bold" text-anchor="end" transform="rotate(-45 180.15 577.30)">R1020G</text>
<line x1="177.55" y1="534.12" x2="177.55" y2="530.70" stroke="#000" stroke-width="1.2"/>
<line x1="175.25" y1="530.70" x2="179.85" y2="530.70" stroke="#000" stroke-width="1.45"/>
<rect x="173.68" y="534.72" width="7.74" height="32.58" fill="#636363" stroke="#000" stroke-width="1.36"/>
<circle cx="178.45" cy="526.80" r="1.25" fill="#000"/>
<line x1="189.55" y1="567.30" x2="189.55" y2="569.70" stroke="#000" stroke-width="1"/>
<text x="192.15" y="577.30" font-size="8.0" font-weight="bold" text-anchor="end" transform="rotate(-45 192.15 577.30)">K1029M</text>
<line x1="189.55" y1="514.60" x2="189.55" y2="502.88" stroke="#000" stroke-width="1.2"/>
<line x1="187.25" y1="502.88" x2="191.85" y2="502.88" stroke="#000" stroke-width="1.45"/>
<rect x="185.68" y="515.20" width="7.74" height="52.10" fill="#636363" stroke="#000" stroke-width="1.36"/>
<line x1="201.55" y1="567.30" x2="201.55" y2="569.70" stroke="#000" stroke-width="1"/>
<text x="204.15" y="577.30" font-size="8.0" font-weight="bold" text-anchor="end" transform="rotate(-45 204.15 577.30)">S1041R</text>
<line x1="201.55" y1="549.73" x2="201.55" y2="543.88" stroke="#000" stroke-width="1.2"/>
<line x1="199.25" y1="543.88" x2="203.85" y2="543.88" stroke="#000" stroke-width="1.45"/>
<rect x="197.68" y="550.33" width="7.74" height="16.97" fill="#636363" stroke="#000" stroke-width="1.36"/>
<circle cx="202.45" cy="528.80" r="1.25" fill="#000"/>
<line x1="213.55" y1="567.30" x2="213.55" y2="569.70" stroke="#000" stroke-width="1"/>
<text x="216.15" y="577.30" font-size="8.0" font-weight="bold" text-anchor="end" transform="rotate(-45 216.15 577.30)">A1072D</text>
<line x1="213.55" y1="543.88" x2="213.55" y2="536.07" stroke="#000" stroke-width="1.2"/>
<line x1="211.25" y1="536.07" x2="215.85" y2="536.07" stroke="#000" stroke-width="1.45"/>
<rect x="209.68" y="544.48" width="7.74" height="22.82" fill="#636363" stroke="#000" stroke-width="1.36"/>
<circle cx="214.45" cy="528.80" r="1.25" fill="#000"/>
<line x1="225.55" y1="567.30" x2="225.55" y2="569.70" stroke="#000" stroke-width="1"/>
<text x="228.15" y="577.30" font-size="8.0" font-weight="bold" text-anchor="end" transform="rotate(-45 228.15 577.30)">A1072S</text>
<line x1="225.55" y1="544.36" x2="225.55" y2="534.60" stroke="#000" stroke-width="1.2"/>
<line x1="223.25" y1="534.60" x2="227.85" y2="534.60" stroke="#000" stroke-width="1.45"/>
<rect x="221.68" y="544.96" width="7.74" height="22.34" fill="#636363" stroke="#000" stroke-width="1.36"/>
<circle cx="226.45" cy="528.80" r="1.25" fill="#000"/>
<line x1="237.55" y1="567.30" x2="237.55" y2="569.70" stroke="#000" stroke-width="1"/>
<text x="240.15" y="577.30" font-size="8.0" font-weight="bold" text-anchor="end" transform="rotate(-45 240.15 577.30)">P1092L</text>
<line x1="237.55" y1="549.24" x2="237.55" y2="541.92" stroke="#000" stroke-width="1.2"/>
<line x1="235.25" y1="541.92" x2="239.85" y2="541.92" stroke="#000" stroke-width="1.45"/>
<rect x="233.68" y="549.84" width="7.74" height="17.46" fill="#636363" stroke="#000" stroke-width="1.36"/>
<circle cx="238.45" cy="528.80" r="1.25" fill="#000"/>
<line x1="249.55" y1="567.30" x2="249.55" y2="569.70" stroke="#000" stroke-width="1"/>
<text x="252.15" y="577.30" font-size="8.0" font-weight="bold" text-anchor="end" transform="rotate(-45 252.15 577.30)">D1093N</text>
<line x1="249.55" y1="546.32" x2="249.55" y2="536.56" stroke="#000" stroke-width="1.2"/>
<line x1="247.25" y1="536.56" x2="251.85" y2="536.56" stroke="#000" stroke-width="1.45"/>
<rect x="245.68" y="546.92" width="7.74" height="20.38" fill="#636363" stroke="#000" stroke-width="1.36"/>
<circle cx="250.45" cy="528.30" r="1.25" fill="#000"/>
<line x1="261.55" y1="567.30" x2="261.55" y2="569.70" stroke="#000" stroke-width="1"/>
<text x="264.15" y="577.30" font-size="8.0" font-weight="bold" text-anchor="end" transform="rotate(-45 264.15 577.30)">G1094R</text>
<line x1="261.55" y1="537.53" x2="261.55" y2="531.19" stroke="#000" stroke-width="1.2"/>
<line x1="259.25" y1="531.19" x2="263.85" y2="531.19" stroke="#000" stroke-width="1.45"/>
<rect x="257.68" y="538.13" width="7.74" height="29.17" fill="#636363" stroke="#000" stroke-width="1.36"/>
<circle cx="262.45" cy="528.80" r="1.25" fill="#000"/>
<line x1="273.55" y1="567.30" x2="273.55" y2="569.70" stroke="#000" stroke-width="1"/>
<text x="276.15" y="577.30" font-size="8.0" font-weight="bold" text-anchor="end" transform="rotate(-45 276.15 577.30)">I1135T</text>
<line x1="273.55" y1="529.72" x2="273.55" y2="526.31" stroke="#000" stroke-width="1.2"/>
<line x1="271.25" y1="526.31" x2="275.85" y2="526.31" stroke="#000" stroke-width="1.45"/>
<rect x="269.68" y="530.32" width="7.74" height="36.98" fill="#636363" stroke="#000" stroke-width="1.36"/>
<circle cx="274.45" cy="521.30" r="1.25" fill="#000"/>
<line x1="285.55" y1="567.30" x2="285.55" y2="569.70" stroke="#000" stroke-width="1"/>
<text x="288.15" y="577.30" font-size="8.0" font-weight="bold" text-anchor="end" transform="rotate(-45 288.15 577.30)">Q1139K</text>
<line x1="285.55" y1="542.90" x2="285.55" y2="537.04" stroke="#000" stroke-width="1.2"/>
<line x1="283.25" y1="537.04" x2="287.85" y2="537.04" stroke="#000" stroke-width="1.45"/>
<rect x="281.68" y="543.50" width="7.74" height="23.80" fill="#636363" stroke="#000" stroke-width="1.36"/>
<circle cx="286.45" cy="528.30" r="1.25" fill="#000"/>
<line x1="297.55" y1="567.30" x2="297.55" y2="569.70" stroke="#000" stroke-width="1"/>
<circle cx="298.55" cy="577.20" r="0.85" fill="#000"/>
<line x1="309.55" y1="567.30" x2="309.55" y2="569.70" stroke="#000" stroke-width="1"/>
<text x="312.15" y="577.30" font-size="8.0" font-weight="bold" text-anchor="end" transform="rotate(-45 312.15 577.30)">R456L</text>
<line x1="309.55" y1="515.57" x2="309.55" y2="507.76" stroke="#000" stroke-width="1.2"/>
<line x1="307.25" y1="507.76" x2="311.85" y2="507.76" stroke="#000" stroke-width="1.45"/>
<rect x="305.68" y="516.17" width="7.74" height="51.13" fill="#636363" stroke="#000" stroke-width="1.36"/>
<line x1="321.55" y1="567.30" x2="321.55" y2="569.70" stroke="#000" stroke-width="1"/>
<text x="324.15" y="577.30" font-size="8.0" font-weight="bold" text-anchor="end" transform="rotate(-45 324.15 577.30)">F581V</text>
<line x1="321.55" y1="514.11" x2="321.55" y2="509.72" stroke="#000" stroke-width="1.2"/>
<line x1="319.25" y1="509.72" x2="323.85" y2="509.72" stroke="#000" stroke-width="1.45"/>
<rect x="317.68" y="514.71" width="7.74" height="52.59" fill="#636363" stroke="#000" stroke-width="1.36"/>
<line x1="333.55" y1="567.30" x2="333.55" y2="569.70" stroke="#000" stroke-width="1"/>
<text x="336.15" y="577.30" font-size="8.0" font-weight="bold" text-anchor="end" transform="rotate(-45 336.15 577.30)">T1361N</text>
<line x1="333.55" y1="518.01" x2="333.55" y2="513.13" stroke="#000" stroke-width="1.2"/>
<line x1="331.25" y1="513.13" x2="335.85" y2="513.13" stroke="#000" stroke-width="1.45"/>
<rect x="329.68" y="518.61" width="7.74" height="48.69" fill="url(#hatch)" stroke="#000" stroke-width="1.36"/>
<line x1="345.55" y1="567.30" x2="345.55" y2="569.70" stroke="#000" stroke-width="1"/>
<text x="348.15" y="577.30" font-size="8.0" font-weight="bold" text-anchor="end" transform="rotate(-45 348.15 577.30)">L1527M</text>
<line x1="345.55" y1="515.57" x2="345.55" y2="512.64" stroke="#000" stroke-width="1.2"/>
<line x1="343.25" y1="512.64" x2="347.85" y2="512.64" stroke="#000" stroke-width="1.45"/>
<rect x="341.68" y="516.17" width="7.74" height="51.13" fill="url(#hatch)" stroke="#000" stroke-width="1.36"/>
<line x1="45.3" y1="605.6" x2="123.4" y2="605.6" stroke="#000" stroke-width="1.5"/>
<line x1="45.3" y1="603.1" x2="45.3" y2="608.1" stroke="#000" stroke-width="1.5"/>
<line x1="123.4" y1="603.1" x2="123.4" y2="608.1" stroke="#000" stroke-width="1.5"/>
<line x1="137.0" y1="605.6" x2="284.2" y2="605.6" stroke="#000" stroke-width="1.5"/>
<line x1="137.0" y1="603.1" x2="137.0" y2="608.1" stroke="#000" stroke-width="1.5"/>
<line x1="284.2" y1="603.1" x2="284.2" y2="608.1" stroke="#000" stroke-width="1.5"/>
<line x1="300.1" y1="605.3" x2="350.3" y2="605.3" stroke="#000" stroke-width="1.5"/>
<line x1="300.1" y1="602.8" x2="300.1" y2="607.8" stroke="#000" stroke-width="1.5"/>
<line x1="350.3" y1="602.8" x2="350.3" y2="607.8" stroke="#000" stroke-width="1.5"/>
<text x="84.20" y="616.80" font-size="7.9" font-weight="bold" text-anchor="middle">FH CCP1-3 binding surface</text>
<text x="212.00" y="616.80" font-size="7.9" font-weight="bold" text-anchor="middle">FH CCP 19-20 binding surface</text>
<text x="325.00" y="616.60" font-size="7.9" font-weight="bold" text-anchor="middle">elsewhere</text>
<text x="142.40" y="487.90" font-size="8.95" font-weight="normal" text-anchor="start">FH<tspan font-size="6.5" dy="1.7">19-20</tspan><tspan dy="-1.7"> binding affinity</tspan></text>
<text x="7.30" y="530.90" font-size="8.0" font-weight="bold" text-anchor="middle" transform="rotate(-90 7.30 530.90)">K<tspan font-size="5.2" dy="1.6">A</tspan><tspan dy="-1.6">, fraction of WT binding</tspan></text>
<text x="2.30" y="477.00" font-size="12" font-weight="normal" text-anchor="start" class="big">E</text>
<text x="361.80" y="8.40" font-size="12" font-weight="normal" text-anchor="start" class="big">D</text>
<line x1="387.9" y1="60.51" x2="387.9" y2="135.80" stroke="#000" stroke-width="1.1"/>
<line x1="385.7" y1="130.80" x2="387.9" y2="130.80" stroke="#000" stroke-width="1.1"/>
<text x="385.00" y="133.50" font-size="7.7" font-weight="bold" text-anchor="end">0</text>
<line x1="385.7" y1="119.17" x2="387.9" y2="119.17" stroke="#000" stroke-width="1.1"/>
<text x="385.00" y="121.87" font-size="7.7" font-weight="bold" text-anchor="end">25</text>
<line x1="385.7" y1="107.54" x2="387.9" y2="107.54" stroke="#000" stroke-width="1.1"/>
<text x="385.00" y="110.24" font-size="7.7" font-weight="bold" text-anchor="end">50</text>
<line x1="385.7" y1="95.90" x2="387.9" y2="95.90" stroke="#000" stroke-width="1.1"/>
<text x="385.00" y="98.60" font-size="7.7" font-weight="bold" text-anchor="end">75</text>
<line x1="385.7" y1="84.27" x2="387.9" y2="84.27" stroke="#000" stroke-width="1.1"/>
<text x="385.00" y="86.97" font-size="7.7" font-weight="bold" text-anchor="end">100</text>
<line x1="385.7" y1="72.64" x2="387.9" y2="72.64" stroke="#000" stroke-width="1.1"/>
<text x="385.00" y="75.34" font-size="7.7" font-weight="bold" text-anchor="end">125</text>
<line x1="385.7" y1="61.01" x2="387.9" y2="61.01" stroke="#000" stroke-width="1.1"/>
<text x="385.00" y="63.71" font-size="7.7" font-weight="bold" text-anchor="end">150</text>
<line x1="387.4" y1="135.3" x2="500.06" y2="135.3" stroke="#000" stroke-width="1.1"/>
<line x1="394.60" y1="135.3" x2="394.60" y2="137.70000000000002" stroke="#000" stroke-width="1.1"/>
<text x="394.60" y="146.30" font-size="7.6" font-weight="bold" text-anchor="middle">0</text>
<line x1="420.84" y1="135.3" x2="420.84" y2="137.70000000000002" stroke="#000" stroke-width="1.1"/>
<text x="420.84" y="146.30" font-size="7.6" font-weight="bold" text-anchor="middle">200</text>
<line x1="447.08" y1="135.3" x2="447.08" y2="137.70000000000002" stroke="#000" stroke-width="1.1"/>
<text x="447.08" y="146.30" font-size="7.6" font-weight="bold" text-anchor="middle">400</text>
<line x1="473.32" y1="135.3" x2="473.32" y2="137.70000000000002" stroke="#000" stroke-width="1.1"/>
<text x="473.32" y="146.30" font-size="7.6" font-weight="bold" text-anchor="middle">600</text>
<line x1="499.56" y1="135.3" x2="499.56" y2="137.70000000000002" stroke="#000" stroke-width="1.1"/>
<text x="499.56" y="146.30" font-size="7.6" font-weight="bold" text-anchor="middle">800</text>
<text x="443.00" y="156.50" font-size="7.3" font-weight="bold" text-anchor="middle">time, s</text>
<text x="367.30" y="96.80" font-size="7.3" font-weight="bold" text-anchor="middle" transform="rotate(-90 367.30 96.80)">Response, RU</text>
<text x="443.80" y="38.50" font-size="9.4" font-weight="bold" text-anchor="middle">WT C3 - FH</text>
<text x="464.60" y="79.90" font-size="7.0" font-weight="normal" text-anchor="start">C3 concentration</text>
<text x="486.70" y="93.40" font-size="7.0" font-weight="normal" text-anchor="start">1 nM</text>
<text x="486.70" y="101.50" font-size="7.0" font-weight="normal" text-anchor="start">0.5 nM</text>
<text x="486.70" y="109.90" font-size="7.0" font-weight="normal" text-anchor="start">0.25 nM</text>
<text x="486.70" y="117.40" font-size="7.0" font-weight="normal" text-anchor="start">0.125 nM</text>
<text x="486.70" y="124.25" font-size="7.0" font-weight="normal" text-anchor="start">0.0625 nM</text>
<text x="486.70" y="131.10" font-size="7.0" font-weight="normal" text-anchor="start">0 nM</text>
<path d="M387.78 130.45L388.17 130.10L388.56 131.10L388.96 129.94L389.35 130.87L389.75 130.53L390.14 129.92L390.53 130.81L390.93 129.87L391.32 130.67L391.71 129.94L392.11 129.98L392.50 130.65L392.89 131.45L393.29 130.05L393.68 130.25L394.08 131.05L394.47 131.70L394.86 129.27L395.26 126.49L395.65 125.36L396.04 121.34L396.44 120.91L396.83 117.83L397.22 115.70L397.62 113.90L398.01 112.63L398.40 112.07L398.80 109.31L399.19 108.69L399.59 107.46L399.98 105.65L400.37 104.78L400.77 102.65L401.16 101.55L401.55 100.79L401.95 100.74L402.34 99.28L402.73 98.14L403.13 97.81L403.52 96.72L403.92 95.62L404.31 95.85L404.70 94.93L405.10 93.33L405.49 93.32L405.88 92.58L406.28 92.66L406.67 91.78L407.06 90.33L407.46 91.17L407.85 88.92L408.24 89.01L408.64 89.20L409.03 87.51L409.43 87.73L409.82 86.39L410.21 87.22L410.61 86.99L411.00 86.21L411.39 86.42L411.79 84.92L412.18 85.31L412.57 84.75L412.97 84.37L413.36 83.78L413.76 84.21L414.15 84.09L414.54 82.83L414.94 82.90L415.33 81.39L415.72 82.37L416.12 81.97L416.51 82.37L416.90 81.74L417.30 80.39L417.69 80.32L418.08 80.61L418.48 79.05L418.87 79.67L419.27 78.82L419.66 78.46L420.05 78.10L420.45 79.26L420.84 77.74L421.23 77.73L421.63 77.78L422.02 78.50L422.41 76.68L422.81 77.18L423.20 77.15L423.60 77.58L423.99 77.22L424.38 77.08L424.78 75.69L425.17 75.73L425.56 75.40L425.96 76.22L426.35 76.15L426.74 74.32L427.14 74.15L427.53 74.04L427.92 73.83L428.32 74.11L428.71 74.10L429.11 73.24L429.50 72.50L429.89 73.12L430.29 72.81L430.68 72.99L431.07 73.55L431.47 72.82L431.86 72.25L432.25 72.25L432.65 72.16L433.04 70.70L433.44 72.18L433.83 71.74L434.22 72.09L434.62 72.29L435.01 71.82L435.40 72.17L435.80 71.91L436.19 73.30L436.58 72.48L436.98 72.80L437.37 73.39L437.76 73.61L438.16 74.26L438.55 73.98L438.95 74.17L439.34 74.76L439.73 74.94L440.13 75.74L440.52 75.34L440.91 77.30L441.31 77.04L441.70 76.37L442.09 76.83L442.49 77.28L442.88 77.56L443.28 77.32L443.67 79.01L444.06 79.53L444.46 78.71L444.85 78.97L445.24 78.40L445.64 78.65L446.03 79.35L446.42 79.40L446.82 80.74L447.21 79.61L447.60 79.54L448.00 81.59L448.39 80.94L448.79 80.37L449.18 81.35L449.57 80.51L449.97 81.69L450.36 82.77L450.75 82.72L451.15 82.56L451.54 81.86L451.93 82.24L452.33 82.01L452.72 83.38L453.12 83.06L453.51 83.71L453.90 82.97L454.30 82.91L454.69 84.24L455.08 84.73L455.48 84.61L455.87 84.66L456.26 84.83L456.66 84.81L457.05 83.92L457.44 84.63L457.84 84.44L458.23 83.92L458.63 84.04L459.02 84.67L459.41 84.75L459.81 85.74L460.20 86.39L460.59 85.49L460.99 86.58L461.38 86.80L461.77 86.84L462.17 85.77L462.56 85.59L462.96 85.71L463.35 85.76L463.74 85.87L464.14 86.81L464.53 87.47L464.92 87.44L465.32 86.82L465.71 87.26L466.10 87.65L466.50 86.31L466.89 87.55L467.28 88.14L467.68 87.97L468.07 87.99L468.47 87.53L468.86 87.02L469.25 88.32L469.65 87.49L470.04 88.50L470.43 88.92L470.83 87.84L471.22 87.93L471.61 89.10L472.01 88.72L472.40 87.69L472.80 87.67L473.19 87.79L473.58 89.36L473.98 89.23L474.37 87.98L474.76 89.40L475.16 89.78L475.55 89.19L475.94 88.64L476.34 89.10L476.73 88.32L477.12 88.15L477.52 90.12L477.91 89.53L478.31 89.34L478.70 90.21L479.09 89.27L479.49 90.19L479.88 90.16L480.27 88.98L480.67 89.11L481.06 89.24L481.45 89.19L481.85 89.93" fill="none" stroke="#151515" stroke-width="1.8" stroke-linejoin="round"/>
<path d="M387.78 130.32L388.17 130.64L388.56 130.06L388.96 131.62L389.35 130.51L389.75 130.72L390.14 130.97L390.53 131.61L390.93 130.64L391.32 131.64L391.71 130.80L392.11 130.86L392.50 130.85L392.89 129.84L393.29 130.68L393.68 130.17L394.08 129.81L394.47 131.40L394.86 129.37L395.26 128.83L395.65 128.22L396.04 126.80L396.44 125.29L396.83 124.66L397.22 123.74L397.62 123.24L398.01 120.95L398.40 120.95L398.80 119.44L399.19 118.64L399.59 118.80L399.98 117.46L400.37 116.78L400.77 116.41L401.16 115.97L401.55 114.30L401.95 113.94L402.34 113.04L402.73 112.39L403.13 112.11L403.52 111.00L403.92 110.55L404.31 109.85L404.70 110.20L405.10 109.15L405.49 108.96L405.88 108.57L406.28 106.69L406.67 106.79L407.06 107.07L407.46 106.39L407.85 104.53L408.24 104.05L408.64 104.26L409.03 103.10L409.43 103.02L409.82 102.29L410.21 103.10L410.61 102.95L411.00 102.81L411.39 100.97L411.79 101.75L412.18 101.30L412.57 99.94L412.97 101.11L413.36 100.97L413.76 99.17L414.15 100.35L414.54 98.96L414.94 98.86L415.33 99.60L415.72 99.02L416.12 97.43L416.51 97.73L416.90 97.66L417.30 97.07L417.69 96.56L418.08 96.59L418.48 97.18L418.87 95.57L419.27 96.44L419.66 96.02L420.05 94.98L420.45 95.42L420.84 95.83L421.23 95.43L421.63 94.37L422.02 96.04L422.41 95.49L422.81 95.70L423.20 93.82L423.60 93.99L423.99 93.40L424.38 94.74L424.78 93.59L425.17 93.17L425.56 93.63L425.96 94.49L426.35 94.18L426.74 92.94L427.14 92.61L427.53 94.04L427.92 93.24L428.32 93.39L428.71 92.07L429.11 91.91L429.50 93.07L429.89 92.45L430.29 91.66L430.68 93.30L431.07 92.61L431.47 92.86L431.86 91.34L432.25 92.81L432.65 91.16L433.04 92.67L433.44 91.78L433.83 91.48L434.22 92.05L434.62 93.03L435.01 91.94L435.40 91.89L435.80 92.90L436.19 92.54L436.58 92.50L436.98 92.82L437.37 92.80L437.76 93.31L438.16 93.74L438.55 93.92L438.95 95.03L439.34 94.28L439.73 94.89L440.13 94.44L440.52 94.96L440.91 94.49L441.31 95.13L441.70 94.84L442.09 96.45L442.49 96.26L442.88 95.70L443.28 96.44L443.67 97.52L444.06 96.03L444.46 97.61L444.85 97.00L445.24 97.28L445.64 98.11L446.03 97.38L446.42 97.75L446.82 98.26L447.21 98.99L447.60 97.86L448.00 98.97L448.39 98.86L448.79 98.85L449.18 98.53L449.57 98.54L449.97 98.09L450.36 98.36L450.75 98.37L451.15 99.83L451.54 98.99L451.93 98.92L452.33 98.88L452.72 100.51L453.12 100.69L453.51 100.40L453.90 99.73L454.30 99.76L454.69 99.97L455.08 100.41L455.48 99.91L455.87 100.59L456.26 100.33L456.66 101.83L457.05 101.95L457.44 101.19L457.84 100.68L458.23 102.22L458.63 101.00L459.02 101.19L459.41 100.57L459.81 101.42L460.20 101.69L460.59 101.83L460.99 101.31L461.38 102.00L461.77 101.09L462.17 101.69L462.56 101.42L462.96 102.12L463.35 101.48L463.74 101.52L464.14 102.16L464.53 102.09L464.92 102.87L465.32 102.83L465.71 103.34L466.10 103.22L466.50 103.41L466.89 103.80L467.28 102.89L467.68 102.83L468.07 104.21L468.47 102.61L468.86 103.82L469.25 103.72L469.65 102.58L470.04 104.22L470.43 104.40L470.83 103.92L471.22 104.20L471.61 104.41L472.01 103.12L472.40 103.94L472.80 103.96L473.19 104.67L473.58 104.66L473.98 104.76L474.37 104.33L474.76 104.99L475.16 104.62L475.55 104.69L475.94 103.81L476.34 103.46L476.73 103.72L477.12 104.22L477.52 103.75L477.91 105.26L478.31 104.75L478.70 104.93L479.09 104.97L479.49 105.12L479.88 104.78L480.27 103.85L480.67 105.47L481.06 105.41L481.45 104.96L481.85 105.07" fill="none" stroke="#151515" stroke-width="1.8" stroke-linejoin="round"/>
<path d="M387.78 131.12L388.17 129.93L388.56 131.27L388.96 130.30L389.35 129.95L389.75 130.33L390.14 131.26L390.53 130.21L390.93 131.28L391.32 131.75L391.71 130.79L392.11 130.57L392.50 130.76L392.89 131.17L393.29 131.33L393.68 131.03L394.08 131.09L394.47 129.95L394.86 129.63L395.26 129.16L395.65 129.47L396.04 127.94L396.44 127.82L396.83 126.08L397.22 125.55L397.62 125.36L398.01 125.57L398.40 125.03L398.80 124.42L399.19 123.09L399.59 122.99L399.98 122.35L400.37 121.82L400.77 120.61L401.16 121.65L401.55 119.76L401.95 120.82L402.34 120.26L402.73 117.95L403.13 118.37L403.52 118.64L403.92 118.49L404.31 117.02L404.70 116.23L405.10 115.69L405.49 116.75L405.88 114.88L406.28 115.23L406.67 113.96L407.06 114.34L407.46 114.83L407.85 112.82L408.24 113.84L408.64 112.86L409.03 113.27L409.43 112.57L409.82 111.29L410.21 112.30L410.61 111.16L411.00 109.92L411.39 109.57L411.79 110.25L412.18 109.87L412.57 109.28L412.97 108.67L413.36 108.80L413.76 108.47L414.15 109.25L414.54 107.31L414.94 108.56L415.33 108.48L415.72 106.79L416.12 108.16L416.51 107.50L416.90 107.64L417.30 106.19L417.69 106.13L418.08 105.95L418.48 106.95L418.87 105.91L419.27 105.25L419.66 105.18L420.05 104.67L420.45 104.03L420.84 103.94L421.23 105.22L421.63 103.93L422.02 105.05L422.41 103.50L422.81 103.36L423.20 103.68L423.60 102.87L423.99 103.07L424.38 104.08L424.78 103.77L425.17 103.48L425.56 102.96L425.96 103.38L426.35 103.28L426.74 102.36L427.14 102.56L427.53 101.08L427.92 102.31L428.32 101.61L428.71 102.09L429.11 101.74L429.50 100.90L429.89 100.31L430.29 101.94L430.68 100.22L431.07 100.80L431.47 100.43L431.86 100.22L432.25 101.00L432.65 101.36L433.04 99.83L433.44 100.52L433.83 99.70L434.22 100.29L434.62 100.11L435.01 99.81L435.40 99.94L435.80 100.18L436.19 101.72L436.58 101.04L436.98 100.62L437.37 102.13L437.76 102.45L438.16 101.49L438.55 101.00L438.95 101.23L439.34 101.15L439.73 101.78L440.13 101.40L440.52 101.82L440.91 101.97L441.31 102.71L441.70 103.46L442.09 103.30L442.49 102.74L442.88 102.85L443.28 103.18L443.67 103.00L444.06 103.02L444.46 102.58L444.85 103.11L445.24 104.59L445.64 103.01L446.03 103.86L446.42 104.21L446.82 104.77L447.21 103.57L447.60 103.77L448.00 103.82L448.39 104.21L448.79 104.39L449.18 105.49L449.57 105.37L449.97 105.50L450.36 103.88L450.75 103.98L451.15 105.42L451.54 105.87L451.93 105.10L452.33 105.41L452.72 104.31L453.12 105.17L453.51 106.31L453.90 106.18L454.30 106.31L454.69 106.62L455.08 105.24L455.48 105.03L455.87 105.19L456.26 105.99L456.66 106.37L457.05 106.96L457.44 106.58L457.84 106.49L458.23 106.79L458.63 106.23L459.02 106.48L459.41 105.52L459.81 107.06L460.20 106.02L460.59 107.45L460.99 106.96L461.38 106.33L461.77 106.03L462.17 106.33L462.56 107.15L462.96 107.33L463.35 106.20L463.74 106.17L464.14 107.13L464.53 107.29L464.92 106.95L465.32 106.67L465.71 107.47L466.10 106.33L466.50 106.96L466.89 107.32L467.28 108.36L467.68 107.78L468.07 108.30L468.47 107.52L468.86 107.08L469.25 107.15L469.65 108.62L470.04 108.14L470.43 107.39L470.83 106.85L471.22 107.84L471.61 108.23L472.01 107.76L472.40 107.47L472.80 108.33L473.19 108.88L473.58 107.51L473.98 107.16L474.37 107.80L474.76 108.00L475.16 108.56L475.55 107.62L475.94 108.85L476.34 108.76L476.73 108.33L477.12 107.76L477.52 109.32L477.91 108.03L478.31 109.07L478.70 107.92L479.09 107.93L479.49 109.04L479.88 108.13L480.27 109.47L480.67 108.59L481.06 108.00L481.45 108.09L481.85 108.51" fill="none" stroke="#151515" stroke-width="1.8" stroke-linejoin="round"/>
<path d="M387.78 131.13L388.17 131.70L388.56 130.09L388.96 130.59L389.35 130.23L389.75 131.75L390.14 130.08L390.53 129.90L390.93 129.92L391.32 130.59L391.71 131.60L392.11 131.57L392.50 131.27L392.89 131.80L393.29 131.66L393.68 130.46L394.08 130.17L394.47 131.67L394.86 131.03L395.26 129.20L395.65 130.08L396.04 129.13L396.44 128.75L396.83 128.30L397.22 127.61L397.62 126.93L398.01 127.13L398.40 126.94L398.80 127.81L399.19 125.82L399.59 127.18L399.98 125.34L400.37 125.33L400.77 125.95L401.16 125.66L401.55 124.58L401.95 123.52L402.34 124.09L402.73 123.61L403.13 124.43L403.52 122.70L403.92 122.78L404.31 123.59L404.70 121.60L405.10 122.11L405.49 122.66L405.88 122.33L406.28 120.64L406.67 120.40L407.06 120.22L407.46 121.71L407.85 120.16L408.24 120.93L408.64 121.02L409.03 119.69L409.43 119.35L409.82 120.52L410.21 119.64L410.61 118.73L411.00 119.45L411.39 118.46L411.79 118.19L412.18 117.47L412.57 118.79L412.97 118.94L413.36 118.20L413.76 118.65L414.15 116.65L414.54 116.91L414.94 117.23L415.33 118.03L415.72 117.87L416.12 116.59L416.51 116.17L416.90 116.38L417.30 116.36L417.69 117.09L418.08 115.46L418.48 116.56L418.87 116.30L419.27 116.34L419.66 116.11L420.05 115.65L420.45 114.97L420.84 114.83L421.23 114.80L421.63 115.52L422.02 114.00L422.41 114.12L422.81 115.12L423.20 114.00L423.60 113.53L423.99 113.36L424.38 114.29L424.78 113.74L425.17 114.94L425.56 114.65L425.96 114.76L426.35 113.22L426.74 112.77L427.14 112.70L427.53 113.42L427.92 113.75L428.32 113.14L428.71 112.63L429.11 112.91L429.50 113.23L429.89 113.26L430.29 113.33L430.68 113.45L431.07 113.01L431.47 111.85L431.86 113.21L432.25 112.04L432.65 112.52L433.04 112.06L433.44 112.72L433.83 111.58L434.22 111.70L434.62 111.76L435.01 111.65L435.40 113.18L435.80 112.63L436.19 112.19L436.58 112.40L436.98 113.65L437.37 112.74L437.76 112.25L438.16 113.47L438.55 113.22L438.95 113.95L439.34 112.23L439.73 113.03L440.13 113.78L440.52 113.87L440.91 114.08L441.31 112.38L441.70 112.94L442.09 112.64L442.49 112.84L442.88 114.45L443.28 113.72L443.67 114.47L444.06 113.40L444.46 114.43L444.85 113.65L445.24 113.31L445.64 114.40L446.03 114.78L446.42 113.14L446.82 114.16L447.21 114.25L447.60 113.49L448.00 113.84L448.39 113.42L448.79 113.59L449.18 113.73L449.57 114.46L449.97 114.60L450.36 113.74L450.75 113.39L451.15 114.06L451.54 114.80L451.93 113.85L452.33 114.14L452.72 113.96L453.12 115.17L453.51 114.71L453.90 113.78L454.30 113.89L454.69 114.51L455.08 114.85L455.48 115.06L455.87 113.99L456.26 114.17L456.66 115.26L457.05 114.72L457.44 114.49L457.84 114.57L458.23 115.89L458.63 114.64L459.02 115.17L459.41 114.78L459.81 114.92L460.20 115.85L460.59 116.14L460.99 114.90L461.38 114.59L461.77 115.67L462.17 114.65L462.56 114.28L462.96 116.09L463.35 115.16L463.74 115.98L464.14 115.17L464.53 116.15L464.92 115.32L465.32 114.75L465.71 114.47L466.10 115.57L466.50 115.77L466.89 116.33L467.28 114.70L467.68 115.79L468.07 115.31L468.47 115.59L468.86 114.89L469.25 115.19L469.65 115.68L470.04 116.51L470.43 114.89L470.83 115.67L471.22 116.32L471.61 116.66L472.01 115.14L472.40 115.01L472.80 116.66L473.19 116.74L473.58 115.77L473.98 114.93L474.37 116.69L474.76 115.63L475.16 116.68L475.55 116.12L475.94 116.54L476.34 115.23L476.73 116.50L477.12 115.38L477.52 115.76L477.91 116.66L478.31 116.64L478.70 115.36L479.09 115.44L479.49 115.81L479.88 116.06L480.27 115.81L480.67 115.30L481.06 115.56L481.45 116.52L481.85 116.88" fill="none" stroke="#151515" stroke-width="1.8" stroke-linejoin="round"/>
<path d="M387.78 129.88L388.17 130.92L388.56 131.31L388.96 129.88L389.35 131.48L389.75 130.04L390.14 131.00L390.53 130.90L390.93 131.05L391.32 130.41L391.71 130.64L392.11 130.97L392.50 130.65L392.89 131.12L393.29 130.69L393.68 130.68L394.08 129.85L394.47 131.04L394.86 130.63L395.26 129.90L395.65 130.74L396.04 130.56L396.44 129.71L396.83 128.95L397.22 129.34L397.62 128.41L398.01 128.26L398.40 128.67L398.80 127.81L399.19 128.32L399.59 128.28L399.98 127.17L400.37 128.18L400.77 126.91L401.16 128.04L401.55 127.97L401.95 127.27L402.34 126.20L402.73 126.95L403.13 126.54L403.52 127.54L403.92 125.76L404.31 127.06L404.70 127.20L405.10 126.53L405.49 126.56L405.88 125.19L406.28 126.63L406.67 125.52L407.06 126.33L407.46 126.12L407.85 124.50L408.24 125.63L408.64 125.79L409.03 123.95L409.43 124.41L409.82 125.11L410.21 123.80L410.61 125.17L411.00 123.83L411.39 124.80L411.79 123.36L412.18 123.98L412.57 124.72L412.97 123.20L413.36 123.21L413.76 123.61L414.15 123.14L414.54 122.49L414.94 122.69L415.33 122.57L415.72 124.03L416.12 123.44L416.51 123.79L416.90 122.26L417.30 123.41L417.69 121.99L418.08 122.75L418.48 122.89L418.87 122.26L419.27 123.22L419.66 122.51L420.05 122.50L420.45 123.03L420.84 121.41L421.23 123.12L421.63 122.33L422.02 121.80L422.41 122.55L422.81 121.42L423.20 122.81L423.60 121.93L423.99 121.44L424.38 122.19L424.78 121.49L425.17 120.91L425.56 121.99L425.96 120.55L426.35 122.04L426.74 120.86L427.14 121.58L427.53 122.22L427.92 121.38L428.32 121.49L428.71 120.74L429.11 120.07L429.50 120.10L429.89 120.28L430.29 121.17L430.68 120.77L431.07 120.89L431.47 121.61L431.86 120.05L432.25 120.20L432.65 121.01L433.04 119.71L433.44 119.64L433.83 120.31L434.22 119.84L434.62 120.39L435.01 120.18L435.40 120.95L435.80 121.01L436.19 120.30L436.58 121.19L436.98 120.94L437.37 120.31L437.76 121.96L438.16 120.62L438.55 120.48L438.95 120.42L439.34 121.55L439.73 122.06L440.13 121.92L440.52 121.21L440.91 120.98L441.31 120.51L441.70 121.82L442.09 121.70L442.49 121.31L442.88 121.94L443.28 121.58L443.67 122.60L444.06 122.23L444.46 121.30L444.85 122.65L445.24 120.97L445.64 121.98L446.03 121.76L446.42 121.46L446.82 121.14L447.21 122.61L447.60 121.11L448.00 122.22L448.39 123.03L448.79 121.47L449.18 121.61L449.57 122.46L449.97 122.29L450.36 122.59L450.75 122.96L451.15 121.71L451.54 122.01L451.93 122.02L452.33 121.55L452.72 123.25L453.12 123.07L453.51 122.96L453.90 121.57L454.30 123.27L454.69 123.10L455.08 122.56L455.48 123.14L455.87 122.59L456.26 122.16L456.66 121.94L457.05 122.22L457.44 121.85L457.84 122.47L458.23 123.32L458.63 123.23L459.02 123.55L459.41 123.31L459.81 122.44L460.20 123.03L460.59 122.82L460.99 123.54L461.38 123.03L461.77 122.53L462.17 123.31L462.56 123.97L462.96 122.49L463.35 123.84L463.74 122.13L464.14 122.63L464.53 122.60L464.92 123.64L465.32 124.06L465.71 123.67L466.10 122.85L466.50 123.98L466.89 122.89L467.28 122.72L467.68 124.08L468.07 123.54L468.47 123.68L468.86 123.64L469.25 124.28L469.65 123.28L470.04 124.03L470.43 123.76L470.83 124.09L471.22 123.27L471.61 123.85L472.01 123.56L472.40 123.05L472.80 122.87L473.19 123.70L473.58 122.62L473.98 124.30L474.37 122.78L474.76 122.56L475.16 122.73L475.55 124.39L475.94 123.23L476.34 122.83L476.73 122.62L477.12 122.65L477.52 123.97L477.91 123.86L478.31 124.00L478.70 124.09L479.09 122.75L479.49 123.81L479.88 123.37L480.27 124.29L480.67 124.30L481.06 124.45L481.45 122.81L481.85 124.42" fill="none" stroke="#151515" stroke-width="1.8" stroke-linejoin="round"/>
<path d="M387.78 130.80L388.17 130.80L388.56 130.80L388.96 130.80L389.35 130.80L389.75 130.80L390.14 130.80L390.53 130.80L390.93 130.80L391.32 130.80L391.71 130.80L392.11 130.80L392.50 130.80L392.89 130.80L393.29 130.80L393.68 130.80L394.08 130.80L394.47 130.80L394.86 129.48L395.26 127.55L395.65 125.69L396.04 123.90L396.44 122.17L396.83 120.50L397.22 118.89L397.62 117.33L398.01 115.83L398.40 114.39L398.80 113.00L399.19 111.65L399.59 110.35L399.98 109.10L400.37 107.90L400.77 106.73L401.16 105.61L401.55 104.52L401.95 103.48L402.34 102.47L402.73 101.50L403.13 100.56L403.52 99.65L403.92 98.78L404.31 97.94L404.70 97.13L405.10 96.34L405.49 95.59L405.88 94.86L406.28 94.15L406.67 93.48L407.06 92.82L407.46 92.19L407.85 91.58L408.24 90.99L408.64 90.43L409.03 89.88L409.43 89.35L409.82 88.84L410.21 88.35L410.61 87.88L411.00 87.42L411.39 86.98L411.79 86.56L412.18 86.15L412.57 85.75L412.97 85.37L413.36 85.00L413.76 84.65L414.15 84.31L414.54 83.97L414.94 83.66L415.33 83.35L415.72 83.05L416.12 82.77L416.51 82.49L416.90 82.22L417.30 81.97L417.69 81.72L418.08 81.48L418.48 81.25L418.87 81.03L419.27 80.81L419.66 80.61L420.05 80.41L420.45 80.22L420.84 80.03L421.23 79.85L421.63 79.68L422.02 79.51L422.41 79.35L422.81 79.19L423.20 79.05L423.60 78.90L423.99 78.76L424.38 78.63L424.78 78.50L425.17 78.37L425.56 78.25L425.96 78.14L426.35 78.02L426.74 77.92L427.14 77.81L427.53 77.71L427.92 77.61L428.32 77.52L428.71 77.43L429.11 77.34L429.50 77.26L429.89 77.18L430.29 77.10L430.68 77.02L431.07 76.95L431.47 76.88L431.86 76.81L432.25 76.75L432.65 76.68L433.04 76.62L433.44 76.56L433.83 76.51L434.22 76.66L434.62 76.90L435.01 77.15L435.40 77.38L435.80 77.62L436.19 77.85L436.58 78.08L436.98 78.30L437.37 78.52L437.76 78.73L438.16 78.95L438.55 79.16L438.95 79.36L439.34 79.56L439.73 79.76L440.13 79.96L440.52 80.15L440.91 80.34L441.31 80.53L441.70 80.71L442.09 80.89L442.49 81.07L442.88 81.24L443.28 81.41L443.67 81.58L444.06 81.75L444.46 81.91L444.85 82.07L445.24 82.23L445.64 82.38L446.03 82.54L446.42 82.69L446.82 82.83L447.21 82.98L447.60 83.12L448.00 83.26L448.39 83.40L448.79 83.54L449.18 83.67L449.57 83.80L449.97 83.93L450.36 84.06L450.75 84.18L451.15 84.31L451.54 84.43L451.93 84.55L452.33 84.67L452.72 84.78L453.12 84.89L453.51 85.01L453.90 85.12L454.30 85.22L454.69 85.33L455.08 85.43L455.48 85.54L455.87 85.64L456.26 85.74L456.66 85.84L457.05 85.93L457.44 86.03L457.84 86.12L458.23 86.21L458.63 86.30L459.02 86.39L459.41 86.48L459.81 86.56L460.20 86.65L460.59 86.73L460.99 86.81L461.38 86.89L461.77 86.97L462.17 87.05L462.56 87.12L462.96 87.20L463.35 87.27L463.74 87.35L464.14 87.42L464.53 87.49L464.92 87.56L465.32 87.63L465.71 87.69L466.10 87.76L466.50 87.82L466.89 87.89L467.28 87.95L467.68 88.01L468.07 88.07L468.47 88.13L468.86 88.19L469.25 88.25L469.65 88.30L470.04 88.36L470.43 88.41L470.83 88.47L471.22 88.52L471.61 88.57L472.01 88.63L472.40 88.68L472.80 88.73L473.19 88.77L473.58 88.82L473.98 88.87L474.37 88.92L474.76 88.96L475.16 89.01L475.55 89.05L475.94 89.10L476.34 89.14L476.73 89.18L477.12 89.22L477.52 89.26L477.91 89.30L478.31 89.34L478.70 89.38L479.09 89.42L479.49 89.46L479.88 89.49L480.27 89.53L480.67 89.57L481.06 89.60L481.45 89.64L481.85 89.67" fill="none" stroke="#000" stroke-width="0.8"/>
<path d="M387.78 130.80L388.17 130.80L388.56 130.80L388.96 130.80L389.35 130.80L389.75 130.80L390.14 130.80L390.53 130.80L390.93 130.80L391.32 130.80L391.71 130.80L392.11 130.80L392.50 130.80L392.89 130.80L393.29 130.80L393.68 130.80L394.08 130.80L394.47 130.80L394.86 129.91L395.26 128.60L395.65 127.33L396.04 126.10L396.44 124.90L396.83 123.74L397.22 122.62L397.62 121.53L398.01 120.47L398.40 119.44L398.80 118.44L399.19 117.47L399.59 116.53L399.98 115.62L400.37 114.73L400.77 113.87L401.16 113.04L401.55 112.23L401.95 111.45L402.34 110.68L402.73 109.95L403.13 109.23L403.52 108.53L403.92 107.86L404.31 107.20L404.70 106.56L405.10 105.95L405.49 105.35L405.88 104.76L406.28 104.20L406.67 103.65L407.06 103.12L407.46 102.61L407.85 102.10L408.24 101.62L408.64 101.15L409.03 100.69L409.43 100.25L409.82 99.81L410.21 99.40L410.61 98.99L411.00 98.60L411.39 98.21L411.79 97.84L412.18 97.48L412.57 97.13L412.97 96.80L413.36 96.47L413.76 96.15L414.15 95.84L414.54 95.54L414.94 95.25L415.33 94.96L415.72 94.69L416.12 94.42L416.51 94.16L416.90 93.91L417.30 93.67L417.69 93.43L418.08 93.20L418.48 92.98L418.87 92.76L419.27 92.55L419.66 92.35L420.05 92.15L420.45 91.96L420.84 91.77L421.23 91.59L421.63 91.42L422.02 91.25L422.41 91.08L422.81 90.92L423.20 90.77L423.60 90.62L423.99 90.47L424.38 90.33L424.78 90.19L425.17 90.06L425.56 89.93L425.96 89.80L426.35 89.68L426.74 89.56L427.14 89.45L427.53 89.33L427.92 89.23L428.32 89.12L428.71 89.02L429.11 88.92L429.50 88.82L429.89 88.73L430.29 88.64L430.68 88.55L431.07 88.47L431.47 88.38L431.86 88.30L432.25 88.22L432.65 88.15L433.04 88.08L433.44 88.00L433.83 87.94L434.22 88.05L434.62 88.26L435.01 88.46L435.40 88.66L435.80 88.86L436.19 89.06L436.58 89.25L436.98 89.44L437.37 89.62L437.76 89.81L438.16 89.99L438.55 90.17L438.95 90.34L439.34 90.52L439.73 90.69L440.13 90.85L440.52 91.02L440.91 91.18L441.31 91.34L441.70 91.50L442.09 91.65L442.49 91.81L442.88 91.96L443.28 92.11L443.67 92.25L444.06 92.40L444.46 92.54L444.85 92.68L445.24 92.82L445.64 92.96L446.03 93.09L446.42 93.22L446.82 93.35L447.21 93.48L447.60 93.61L448.00 93.73L448.39 93.85L448.79 93.97L449.18 94.09L449.57 94.21L449.97 94.32L450.36 94.44L450.75 94.55L451.15 94.66L451.54 94.77L451.93 94.87L452.33 94.98L452.72 95.08L453.12 95.19L453.51 95.29L453.90 95.39L454.30 95.48L454.69 95.58L455.08 95.67L455.48 95.77L455.87 95.86L456.26 95.95L456.66 96.04L457.05 96.13L457.44 96.22L457.84 96.30L458.23 96.38L458.63 96.47L459.02 96.55L459.41 96.63L459.81 96.71L460.20 96.79L460.59 96.86L460.99 96.94L461.38 97.01L461.77 97.09L462.17 97.16L462.56 97.23L462.96 97.30L463.35 97.37L463.74 97.44L464.14 97.51L464.53 97.57L464.92 97.64L465.32 97.70L465.71 97.77L466.10 97.83L466.50 97.89L466.89 97.95L467.28 98.01L467.68 98.07L468.07 98.13L468.47 98.18L468.86 98.24L469.25 98.29L469.65 98.35L470.04 98.40L470.43 98.45L470.83 98.51L471.22 98.56L471.61 98.61L472.01 98.66L472.40 98.71L472.80 98.76L473.19 98.80L473.58 98.85L473.98 98.90L474.37 98.94L474.76 98.99L475.16 99.03L475.55 99.07L475.94 99.12L476.34 99.16L476.73 99.20L477.12 99.24L477.52 99.28L477.91 99.32L478.31 99.36L478.70 99.40L479.09 99.44L479.49 99.48L479.88 99.51L480.27 99.55L480.67 99.58L481.06 99.62L481.45 99.65L481.85 99.69" fill="none" stroke="#000" stroke-width="0.8"/>
<path d="M387.78 130.80L388.17 130.80L388.56 130.80L388.96 130.80L389.35 130.80L389.75 130.80L390.14 130.80L390.53 130.80L390.93 130.80L391.32 130.80L391.71 130.80L392.11 130.80L392.50 130.80L392.89 130.80L393.29 130.80L393.68 130.80L394.08 130.80L394.47 130.80L394.86 130.34L395.26 129.66L395.65 129.00L396.04 128.35L396.44 127.72L396.83 127.09L397.22 126.48L397.62 125.88L398.01 125.30L398.40 124.72L398.80 124.16L399.19 123.61L399.59 123.07L399.98 122.54L400.37 122.02L400.77 121.51L401.16 121.01L401.55 120.52L401.95 120.04L402.34 119.57L402.73 119.12L403.13 118.67L403.52 118.22L403.92 117.79L404.31 117.37L404.70 116.95L405.10 116.55L405.49 116.15L405.88 115.76L406.28 115.38L406.67 115.00L407.06 114.64L407.46 114.28L407.85 113.92L408.24 113.58L408.64 113.24L409.03 112.91L409.43 112.59L409.82 112.27L410.21 111.96L410.61 111.65L411.00 111.35L411.39 111.06L411.79 110.77L412.18 110.49L412.57 110.21L412.97 109.94L413.36 109.68L413.76 109.42L414.15 109.16L414.54 108.92L414.94 108.67L415.33 108.43L415.72 108.20L416.12 107.97L416.51 107.74L416.90 107.52L417.30 107.31L417.69 107.10L418.08 106.89L418.48 106.69L418.87 106.49L419.27 106.29L419.66 106.10L420.05 105.91L420.45 105.73L420.84 105.55L421.23 105.38L421.63 105.20L422.02 105.03L422.41 104.87L422.81 104.71L423.20 104.55L423.60 104.39L423.99 104.24L424.38 104.09L424.78 103.94L425.17 103.80L425.56 103.66L425.96 103.52L426.35 103.39L426.74 103.25L427.14 103.12L427.53 103.00L427.92 102.87L428.32 102.75L428.71 102.63L429.11 102.51L429.50 102.40L429.89 102.29L430.29 102.18L430.68 102.07L431.07 101.96L431.47 101.86L431.86 101.76L432.25 101.66L432.65 101.56L433.04 101.47L433.44 101.37L433.83 101.28L434.22 101.33L434.62 101.45L435.01 101.57L435.40 101.69L435.80 101.80L436.19 101.91L436.58 102.03L436.98 102.13L437.37 102.24L437.76 102.35L438.16 102.45L438.55 102.56L438.95 102.66L439.34 102.76L439.73 102.86L440.13 102.96L440.52 103.05L440.91 103.15L441.31 103.24L441.70 103.33L442.09 103.42L442.49 103.51L442.88 103.60L443.28 103.68L443.67 103.77L444.06 103.85L444.46 103.94L444.85 104.02L445.24 104.10L445.64 104.18L446.03 104.25L446.42 104.33L446.82 104.41L447.21 104.48L447.60 104.55L448.00 104.63L448.39 104.70L448.79 104.77L449.18 104.84L449.57 104.90L449.97 104.97L450.36 105.04L450.75 105.10L451.15 105.16L451.54 105.23L451.93 105.29L452.33 105.35L452.72 105.41L453.12 105.47L453.51 105.53L453.90 105.59L454.30 105.64L454.69 105.70L455.08 105.75L455.48 105.81L455.87 105.86L456.26 105.91L456.66 105.97L457.05 106.02L457.44 106.07L457.84 106.12L458.23 106.17L458.63 106.21L459.02 106.26L459.41 106.31L459.81 106.35L460.20 106.40L460.59 106.44L460.99 106.49L461.38 106.53L461.77 106.57L462.17 106.62L462.56 106.66L462.96 106.70L463.35 106.74L463.74 106.78L464.14 106.82L464.53 106.86L464.92 106.89L465.32 106.93L465.71 106.97L466.10 107.00L466.50 107.04L466.89 107.07L467.28 107.11L467.68 107.14L468.07 107.18L468.47 107.21L468.86 107.24L469.25 107.27L469.65 107.31L470.04 107.34L470.43 107.37L470.83 107.40L471.22 107.43L471.61 107.46L472.01 107.49L472.40 107.51L472.80 107.54L473.19 107.57L473.58 107.60L473.98 107.62L474.37 107.65L474.76 107.68L475.16 107.70L475.55 107.73L475.94 107.75L476.34 107.78L476.73 107.80L477.12 107.82L477.52 107.85L477.91 107.87L478.31 107.89L478.70 107.92L479.09 107.94L479.49 107.96L479.88 107.98L480.27 108.00L480.67 108.02L481.06 108.04L481.45 108.06L481.85 108.08" fill="none" stroke="#000" stroke-width="0.8"/>
<path d="M387.78 130.80L388.17 130.80L388.56 130.80L388.96 130.80L389.35 130.80L389.75 130.80L390.14 130.80L390.53 130.80L390.93 130.80L391.32 130.80L391.71 130.80L392.11 130.80L392.50 130.80L392.89 130.80L393.29 130.80L393.68 130.80L394.08 130.80L394.47 130.80L394.86 130.54L395.26 130.15L395.65 129.76L396.04 129.39L396.44 129.02L396.83 128.66L397.22 128.30L397.62 127.96L398.01 127.61L398.40 127.28L398.80 126.95L399.19 126.62L399.59 126.31L399.98 126.00L400.37 125.69L400.77 125.39L401.16 125.09L401.55 124.81L401.95 124.52L402.34 124.24L402.73 123.97L403.13 123.70L403.52 123.44L403.92 123.18L404.31 122.92L404.70 122.67L405.10 122.43L405.49 122.19L405.88 121.95L406.28 121.72L406.67 121.50L407.06 121.27L407.46 121.05L407.85 120.84L408.24 120.63L408.64 120.42L409.03 120.22L409.43 120.02L409.82 119.82L410.21 119.63L410.61 119.44L411.00 119.26L411.39 119.08L411.79 118.90L412.18 118.72L412.57 118.55L412.97 118.38L413.36 118.22L413.76 118.05L414.15 117.89L414.54 117.74L414.94 117.58L415.33 117.43L415.72 117.28L416.12 117.14L416.51 117.00L416.90 116.86L417.30 116.72L417.69 116.58L418.08 116.45L418.48 116.32L418.87 116.19L419.27 116.07L419.66 115.95L420.05 115.82L420.45 115.71L420.84 115.59L421.23 115.48L421.63 115.36L422.02 115.25L422.41 115.15L422.81 115.04L423.20 114.94L423.60 114.83L423.99 114.73L424.38 114.64L424.78 114.54L425.17 114.44L425.56 114.35L425.96 114.26L426.35 114.17L426.74 114.08L427.14 114.00L427.53 113.91L427.92 113.83L428.32 113.75L428.71 113.67L429.11 113.59L429.50 113.51L429.89 113.43L430.29 113.36L430.68 113.29L431.07 113.22L431.47 113.14L431.86 113.08L432.25 113.01L432.65 112.94L433.04 112.88L433.44 112.81L433.83 112.75L434.22 112.76L434.62 112.82L435.01 112.87L435.40 112.92L435.80 112.97L436.19 113.03L436.58 113.08L436.98 113.12L437.37 113.17L437.76 113.22L438.16 113.27L438.55 113.31L438.95 113.36L439.34 113.40L439.73 113.45L440.13 113.49L440.52 113.54L440.91 113.58L441.31 113.62L441.70 113.66L442.09 113.70L442.49 113.74L442.88 113.78L443.28 113.82L443.67 113.86L444.06 113.89L444.46 113.93L444.85 113.97L445.24 114.00L445.64 114.04L446.03 114.07L446.42 114.11L446.82 114.14L447.21 114.17L447.60 114.21L448.00 114.24L448.39 114.27L448.79 114.30L449.18 114.33L449.57 114.36L449.97 114.39L450.36 114.42L450.75 114.45L451.15 114.48L451.54 114.51L451.93 114.54L452.33 114.56L452.72 114.59L453.12 114.62L453.51 114.64L453.90 114.67L454.30 114.70L454.69 114.72L455.08 114.74L455.48 114.77L455.87 114.79L456.26 114.82L456.66 114.84L457.05 114.86L457.44 114.89L457.84 114.91L458.23 114.93L458.63 114.95L459.02 114.97L459.41 114.99L459.81 115.01L460.20 115.03L460.59 115.05L460.99 115.07L461.38 115.09L461.77 115.11L462.17 115.13L462.56 115.15L462.96 115.17L463.35 115.19L463.74 115.20L464.14 115.22L464.53 115.24L464.92 115.25L465.32 115.27L465.71 115.29L466.10 115.30L466.50 115.32L466.89 115.34L467.28 115.35L467.68 115.37L468.07 115.38L468.47 115.40L468.86 115.41L469.25 115.43L469.65 115.44L470.04 115.45L470.43 115.47L470.83 115.48L471.22 115.49L471.61 115.51L472.01 115.52L472.40 115.53L472.80 115.55L473.19 115.56L473.58 115.57L473.98 115.58L474.37 115.59L474.76 115.61L475.16 115.62L475.55 115.63L475.94 115.64L476.34 115.65L476.73 115.66L477.12 115.67L477.52 115.68L477.91 115.69L478.31 115.70L478.70 115.71L479.09 115.72L479.49 115.73L479.88 115.74L480.27 115.75L480.67 115.76L481.06 115.77L481.45 115.78L481.85 115.79" fill="none" stroke="#000" stroke-width="0.8"/>
<path d="M387.78 130.80L388.17 130.80L388.56 130.80L388.96 130.80L389.35 130.80L389.75 130.80L390.14 130.80L390.53 130.80L390.93 130.80L391.32 130.80L391.71 130.80L392.11 130.80L392.50 130.80L392.89 130.80L393.29 130.80L393.68 130.80L394.08 130.80L394.47 130.80L394.86 130.65L395.26 130.43L395.65 130.21L396.04 130.00L396.44 129.79L396.83 129.58L397.22 129.38L397.62 129.18L398.01 128.99L398.40 128.80L398.80 128.62L399.19 128.43L399.59 128.25L399.98 128.08L400.37 127.91L400.77 127.74L401.16 127.57L401.55 127.41L401.95 127.25L402.34 127.09L402.73 126.94L403.13 126.79L403.52 126.64L403.92 126.50L404.31 126.36L404.70 126.22L405.10 126.08L405.49 125.95L405.88 125.82L406.28 125.69L406.67 125.56L407.06 125.44L407.46 125.32L407.85 125.20L408.24 125.08L408.64 124.97L409.03 124.86L409.43 124.75L409.82 124.64L410.21 124.53L410.61 124.43L411.00 124.33L411.39 124.23L411.79 124.13L412.18 124.04L412.57 123.94L412.97 123.85L413.36 123.76L413.76 123.67L414.15 123.58L414.54 123.50L414.94 123.41L415.33 123.33L415.72 123.25L416.12 123.17L416.51 123.10L416.90 123.02L417.30 122.95L417.69 122.87L418.08 122.80L418.48 122.73L418.87 122.66L419.27 122.59L419.66 122.53L420.05 122.46L420.45 122.40L420.84 122.34L421.23 122.28L421.63 122.22L422.02 122.16L422.41 122.10L422.81 122.04L423.20 121.99L423.60 121.93L423.99 121.88L424.38 121.83L424.78 121.78L425.17 121.73L425.56 121.68L425.96 121.63L426.35 121.58L426.74 121.53L427.14 121.49L427.53 121.44L427.92 121.40L428.32 121.36L428.71 121.31L429.11 121.27L429.50 121.23L429.89 121.19L430.29 121.15L430.68 121.11L431.07 121.08L431.47 121.04L431.86 121.00L432.25 120.97L432.65 120.93L433.04 120.90L433.44 120.87L433.83 120.83L434.22 120.85L434.62 120.90L435.01 120.94L435.40 120.98L435.80 121.03L436.19 121.07L436.58 121.11L436.98 121.15L437.37 121.19L437.76 121.23L438.16 121.27L438.55 121.30L438.95 121.34L439.34 121.38L439.73 121.41L440.13 121.45L440.52 121.49L440.91 121.52L441.31 121.55L441.70 121.59L442.09 121.62L442.49 121.65L442.88 121.69L443.28 121.72L443.67 121.75L444.06 121.78L444.46 121.81L444.85 121.84L445.24 121.87L445.64 121.90L446.03 121.93L446.42 121.96L446.82 121.98L447.21 122.01L447.60 122.04L448.00 122.06L448.39 122.09L448.79 122.12L449.18 122.14L449.57 122.17L449.97 122.19L450.36 122.22L450.75 122.24L451.15 122.26L451.54 122.29L451.93 122.31L452.33 122.33L452.72 122.35L453.12 122.38L453.51 122.40L453.90 122.42L454.30 122.44L454.69 122.46L455.08 122.48L455.48 122.50L455.87 122.52L456.26 122.54L456.66 122.56L457.05 122.58L457.44 122.60L457.84 122.61L458.23 122.63L458.63 122.65L459.02 122.67L459.41 122.68L459.81 122.70L460.20 122.72L460.59 122.73L460.99 122.75L461.38 122.77L461.77 122.78L462.17 122.80L462.56 122.81L462.96 122.83L463.35 122.84L463.74 122.86L464.14 122.87L464.53 122.89L464.92 122.90L465.32 122.91L465.71 122.93L466.10 122.94L466.50 122.95L466.89 122.97L467.28 122.98L467.68 122.99L468.07 123.00L468.47 123.02L468.86 123.03L469.25 123.04L469.65 123.05L470.04 123.06L470.43 123.07L470.83 123.08L471.22 123.10L471.61 123.11L472.01 123.12L472.40 123.13L472.80 123.14L473.19 123.15L473.58 123.16L473.98 123.17L474.37 123.18L474.76 123.19L475.16 123.20L475.55 123.21L475.94 123.22L476.34 123.22L476.73 123.23L477.12 123.24L477.52 123.25L477.91 123.26L478.31 123.27L478.70 123.28L479.09 123.28L479.49 123.29L479.88 123.30L480.27 123.31L480.67 123.31L481.06 123.32L481.45 123.33L481.85 123.34" fill="none" stroke="#000" stroke-width="0.8"/>
<line x1="387.78" y1="130.80" x2="481.85" y2="130.80" stroke="#444" stroke-width="1.0"/>
<line x1="385.0" y1="221.00" x2="385.0" y2="296.50" stroke="#000" stroke-width="1.1"/>
<line x1="382.8" y1="291.70" x2="385.0" y2="291.70" stroke="#000" stroke-width="1.1"/>
<text x="382.10" y="294.40" font-size="7.7" font-weight="bold" text-anchor="end">0</text>
<line x1="382.8" y1="280.00" x2="385.0" y2="280.00" stroke="#000" stroke-width="1.1"/>
<text x="382.10" y="282.70" font-size="7.7" font-weight="bold" text-anchor="end">25</text>
<line x1="382.8" y1="268.30" x2="385.0" y2="268.30" stroke="#000" stroke-width="1.1"/>
<text x="382.10" y="271.00" font-size="7.7" font-weight="bold" text-anchor="end">50</text>
<line x1="382.8" y1="256.60" x2="385.0" y2="256.60" stroke="#000" stroke-width="1.1"/>
<text x="382.10" y="259.30" font-size="7.7" font-weight="bold" text-anchor="end">75</text>
<line x1="382.8" y1="244.90" x2="385.0" y2="244.90" stroke="#000" stroke-width="1.1"/>
<text x="382.10" y="247.60" font-size="7.7" font-weight="bold" text-anchor="end">100</text>
<line x1="382.8" y1="233.20" x2="385.0" y2="233.20" stroke="#000" stroke-width="1.1"/>
<text x="382.10" y="235.90" font-size="7.7" font-weight="bold" text-anchor="end">125</text>
<line x1="382.8" y1="221.50" x2="385.0" y2="221.50" stroke="#000" stroke-width="1.1"/>
<text x="382.10" y="224.20" font-size="7.7" font-weight="bold" text-anchor="end">150</text>
<line x1="384.5" y1="296.0" x2="497.76" y2="296.0" stroke="#000" stroke-width="1.1"/>
<line x1="392.30" y1="296.0" x2="392.30" y2="298.4" stroke="#000" stroke-width="1.1"/>
<text x="392.30" y="307.00" font-size="7.6" font-weight="bold" text-anchor="middle">0</text>
<line x1="418.54" y1="296.0" x2="418.54" y2="298.4" stroke="#000" stroke-width="1.1"/>
<text x="418.54" y="307.00" font-size="7.6" font-weight="bold" text-anchor="middle">200</text>
<line x1="444.78" y1="296.0" x2="444.78" y2="298.4" stroke="#000" stroke-width="1.1"/>
<text x="444.78" y="307.00" font-size="7.6" font-weight="bold" text-anchor="middle">400</text>
<line x1="471.02" y1="296.0" x2="471.02" y2="298.4" stroke="#000" stroke-width="1.1"/>
<text x="471.02" y="307.00" font-size="7.6" font-weight="bold" text-anchor="middle">600</text>
<line x1="497.26" y1="296.0" x2="497.26" y2="298.4" stroke="#000" stroke-width="1.1"/>
<text x="497.26" y="307.00" font-size="7.6" font-weight="bold" text-anchor="middle">800</text>
<text x="441.00" y="317.50" font-size="7.3" font-weight="bold" text-anchor="middle">time, s</text>
<text x="365.80" y="256.50" font-size="7.3" font-weight="bold" text-anchor="middle" transform="rotate(-90 365.80 256.50)">Response, RU</text>
<text x="441.40" y="198.90" font-size="9.4" font-weight="bold" text-anchor="middle">A1072D C3 - FH</text>
<text x="460.80" y="240.50" font-size="7.0" font-weight="normal" text-anchor="start">C3 concentration</text>
<text x="484.50" y="262.30" font-size="7.0" font-weight="normal" text-anchor="start">1 nM</text>
<text x="484.50" y="269.50" font-size="7.0" font-weight="normal" text-anchor="start">0.5 nM</text>
<text x="484.50" y="276.50" font-size="7.0" font-weight="normal" text-anchor="start">0.25 nM</text>
<text x="484.50" y="283.00" font-size="7.0" font-weight="normal" text-anchor="start">0.125 nM</text>
<text x="484.50" y="289.30" font-size="7.0" font-weight="normal" text-anchor="start">0.0625 nM</text>
<text x="484.50" y="294.90" font-size="7.0" font-weight="normal" text-anchor="start">0 nM</text>
<path d="M385.48 292.53L385.87 292.59L386.26 290.91L386.66 291.11L387.05 290.92L387.45 290.77L387.84 292.40L388.23 292.32L388.63 291.97L389.02 292.35L389.41 291.96L389.81 291.27L390.20 290.90L390.59 290.90L390.99 292.21L391.38 291.11L391.78 291.34L392.17 291.55L392.56 290.00L392.96 289.39L393.35 288.39L393.74 288.23L394.14 286.54L394.53 285.48L394.92 285.83L395.32 283.99L395.71 283.80L396.10 282.47L396.50 280.46L396.89 280.41L397.29 279.66L397.68 279.56L398.07 277.96L398.47 277.95L398.86 276.91L399.25 275.58L399.65 276.21L400.04 274.01L400.43 274.84L400.83 272.93L401.22 272.00L401.62 271.82L402.01 272.38L402.40 272.26L402.80 269.78L403.19 270.24L403.58 269.74L403.98 269.86L404.37 268.16L404.76 268.32L405.16 267.58L405.55 268.11L405.94 266.55L406.34 267.50L406.73 265.78L407.13 265.25L407.52 265.85L407.91 265.08L408.31 263.94L408.70 264.65L409.09 263.20L409.49 264.29L409.88 263.79L410.27 263.66L410.67 263.04L411.06 262.20L411.46 262.01L411.85 261.72L412.24 262.45L412.64 260.58L413.03 261.93L413.42 259.96L413.82 260.08L414.21 259.96L414.60 261.01L415.00 259.99L415.39 259.53L415.78 260.33L416.18 258.83L416.57 259.09L416.97 259.04L417.36 259.30L417.75 259.12L418.15 258.73L418.54 257.96L418.93 257.76L419.33 257.25L419.72 258.47L420.11 257.96L420.51 257.97L420.90 256.68L421.30 257.08L421.69 257.62L422.08 257.10L422.48 256.06L422.87 256.61L423.26 257.33L423.66 255.92L424.05 255.72L424.44 255.83L424.84 256.52L425.23 256.70L425.62 255.22L426.02 255.12L426.41 255.21L426.81 255.27L427.20 255.57L427.59 254.76L427.99 255.01L428.38 254.65L428.77 256.14L429.17 255.57L429.56 254.24L429.95 255.89L430.35 254.09L430.74 254.59L431.14 255.80L431.53 255.61L431.92 255.66L432.32 255.24L432.71 254.93L433.10 255.99L433.50 255.09L433.89 255.45L434.28 255.98L434.68 255.43L435.07 256.31L435.46 257.25L435.86 257.20L436.25 256.96L436.65 257.37L437.04 257.17L437.43 256.67L437.83 257.73L438.22 257.46L438.61 258.27L439.01 258.73L439.40 257.90L439.79 258.31L440.19 258.79L440.58 258.25L440.98 257.98L441.37 259.09L441.76 259.52L442.16 259.42L442.55 259.38L442.94 259.79L443.34 259.55L443.73 259.58L444.12 259.31L444.52 259.12L444.91 259.85L445.30 258.89L445.70 259.63L446.09 260.45L446.49 260.40L446.88 260.32L447.27 259.65L447.67 260.09L448.06 260.24L448.45 260.65L448.85 260.31L449.24 260.92L449.63 261.51L450.03 260.10L450.42 261.11L450.82 261.44L451.21 260.73L451.60 261.01L452.00 262.05L452.39 260.25L452.78 261.32L453.18 260.63L453.57 261.94L453.96 262.32L454.36 261.54L454.75 260.77L455.14 261.77L455.54 261.77L455.93 262.18L456.33 261.83L456.72 262.14L457.11 262.58L457.51 262.02L457.90 261.85L458.29 262.98L458.69 261.55L459.08 262.55L459.47 262.02L459.87 262.81L460.26 261.58L460.66 263.35L461.05 262.14L461.44 261.59L461.84 262.07L462.23 262.37L462.62 261.64L463.02 262.49L463.41 262.54L463.80 263.13L464.20 262.48L464.59 262.35L464.98 262.31L465.38 263.38L465.77 263.81L466.17 263.02L466.56 262.45L466.95 263.65L467.35 262.86L467.74 262.54L468.13 262.41L468.53 263.73L468.92 263.83L469.31 263.51L469.71 263.22L470.10 263.43L470.50 262.79L470.89 264.30L471.28 263.11L471.68 263.71L472.07 264.09L472.46 264.12L472.86 263.45L473.25 263.13L473.64 263.66L474.04 262.84L474.43 264.28L474.82 263.35L475.22 264.37L475.61 263.23L476.01 263.47L476.40 263.25L476.79 263.61L477.19 263.16L477.58 262.81L477.97 264.27L478.37 263.41L478.76 263.36L479.15 263.49L479.55 263.87" fill="none" stroke="#151515" stroke-width="1.8" stroke-linejoin="round"/>
<path d="M385.48 291.56L385.87 291.97L386.26 292.02L386.66 291.42L387.05 292.56L387.45 292.41L387.84 290.81L388.23 292.36L388.63 292.51L389.02 292.27L389.41 290.98L389.81 292.36L390.20 291.97L390.59 290.73L390.99 290.72L391.38 292.60L391.78 292.01L392.17 291.20L392.56 290.39L392.96 289.73L393.35 289.18L393.74 289.56L394.14 288.01L394.53 286.96L394.92 287.81L395.32 286.96L395.71 285.10L396.10 285.95L396.50 284.80L396.89 284.58L397.29 283.81L397.68 283.73L398.07 283.00L398.47 282.60L398.86 280.83L399.25 281.35L399.65 280.56L400.04 280.54L400.43 279.49L400.83 279.96L401.22 278.89L401.62 277.91L402.01 277.46L402.40 276.90L402.80 277.24L403.19 276.01L403.58 276.48L403.98 275.50L404.37 275.87L404.76 275.56L405.16 275.33L405.55 275.68L405.94 273.68L406.34 275.06L406.73 274.04L407.13 273.96L407.52 273.90L407.91 274.00L408.31 272.82L408.70 272.67L409.09 273.52L409.49 271.53L409.88 272.43L410.27 272.21L410.67 270.79L411.06 271.75L411.46 271.70L411.85 272.01L412.24 270.62L412.64 271.74L413.03 270.63L413.42 270.41L413.82 271.07L414.21 269.18L414.60 270.39L415.00 270.05L415.39 269.33L415.78 270.24L416.18 269.11L416.57 269.19L416.97 269.16L417.36 269.52L417.75 268.28L418.15 268.60L418.54 268.46L418.93 268.61L419.33 269.04L419.72 267.87L420.11 268.83L420.51 267.88L420.90 267.99L421.30 267.43L421.69 267.80L422.08 268.65L422.48 267.92L422.87 268.11L423.26 267.10L423.66 266.99L424.05 266.88L424.44 267.38L424.84 267.40L425.23 267.63L425.62 266.07L426.02 267.36L426.41 267.62L426.81 266.88L427.20 265.82L427.59 266.26L427.99 265.62L428.38 265.93L428.77 267.33L429.17 266.65L429.56 266.70L429.95 266.91L430.35 267.10L430.74 266.46L431.14 266.46L431.53 266.56L431.92 266.78L432.32 266.66L432.71 266.90L433.10 266.04L433.50 267.02L433.89 266.68L434.28 267.36L434.68 266.11L435.07 266.34L435.46 266.12L435.86 267.66L436.25 268.00L436.65 267.55L437.04 267.04L437.43 268.02L437.83 268.01L438.22 267.62L438.61 267.07L439.01 267.22L439.40 267.52L439.79 267.37L440.19 267.65L440.58 268.13L440.98 268.77L441.37 267.07L441.76 268.14L442.16 267.14L442.55 267.35L442.94 268.79L443.34 268.37L443.73 269.10L444.12 268.21L444.52 267.39L444.91 268.19L445.30 268.64L445.70 269.38L446.09 269.51L446.49 268.55L446.88 268.47L447.27 267.89L447.67 269.02L448.06 268.20L448.45 268.12L448.85 267.88L449.24 267.90L449.63 269.30L450.03 268.22L450.42 269.94L450.82 268.23L451.21 269.83L451.60 268.38L452.00 268.20L452.39 269.64L452.78 268.72L453.18 269.73L453.57 268.68L453.96 268.44L454.36 269.92L454.75 269.83L455.14 270.15L455.54 269.93L455.93 268.67L456.33 269.79L456.72 269.98L457.11 269.51L457.51 270.48L457.90 269.16L458.29 270.61L458.69 270.14L459.08 268.76L459.47 268.79L459.87 270.09L460.26 270.45L460.66 269.00L461.05 269.49L461.44 270.35L461.84 269.25L462.23 270.66L462.62 269.94L463.02 269.11L463.41 269.75L463.80 270.19L464.20 269.94L464.59 270.44L464.98 269.39L465.38 270.72L465.77 269.87L466.17 270.46L466.56 270.45L466.95 270.05L467.35 270.00L467.74 270.82L468.13 271.16L468.53 270.86L468.92 270.44L469.31 269.91L469.71 269.47L470.10 271.31L470.50 270.79L470.89 271.06L471.28 270.08L471.68 270.65L472.07 271.41L472.46 271.13L472.86 270.69L473.25 270.12L473.64 270.38L474.04 271.31L474.43 270.30L474.82 270.93L475.22 270.78L475.61 271.39L476.01 271.22L476.40 270.19L476.79 269.64L477.19 270.18L477.58 270.51L477.97 270.85L478.37 271.32L478.76 271.48L479.15 269.80L479.55 271.40" fill="none" stroke="#151515" stroke-width="1.8" stroke-linejoin="round"/>
<path d="M385.48 292.32L385.87 292.43L386.26 291.84L386.66 291.25L387.05 292.40L387.45 292.31L387.84 292.07L388.23 292.53L388.63 291.39L389.02 290.87L389.41 291.81L389.81 292.29L390.20 291.10L390.59 292.20L390.99 292.56L391.38 291.17L391.78 291.91L392.17 292.06L392.56 291.25L392.96 290.18L393.35 289.73L393.74 290.20L394.14 289.76L394.53 288.60L394.92 287.36L395.32 288.32L395.71 287.79L396.10 286.26L396.50 286.51L396.89 286.71L397.29 286.27L397.68 285.13L398.07 284.64L398.47 284.48L398.86 283.30L399.25 282.94L399.65 282.55L400.04 283.24L400.43 282.22L400.83 282.29L401.22 281.64L401.62 281.56L402.01 280.51L402.40 280.00L402.80 281.61L403.19 280.08L403.58 279.26L403.98 280.04L404.37 280.09L404.76 278.57L405.16 279.20L405.55 278.45L405.94 278.56L406.34 277.32L406.73 277.12L407.13 278.81L407.52 278.35L407.91 277.38L408.31 277.33L408.70 276.52L409.09 277.36L409.49 276.47L409.88 277.32L410.27 276.78L410.67 276.71L411.06 276.82L411.46 275.24L411.85 274.64L412.24 274.81L412.64 274.61L413.03 274.27L413.42 274.05L413.82 274.92L414.21 275.41L414.60 274.45L415.00 275.29L415.39 275.09L415.78 273.27L416.18 274.21L416.57 273.69L416.97 273.02L417.36 274.58L417.75 273.07L418.15 273.57L418.54 273.62L418.93 274.15L419.33 273.48L419.72 272.82L420.11 272.84L420.51 272.17L420.90 273.69L421.30 273.65L421.69 272.03L422.08 271.58L422.48 271.93L422.87 272.04L423.26 273.06L423.66 272.99L424.05 272.78L424.44 271.13L424.84 272.54L425.23 272.32L425.62 272.12L426.02 272.73L426.41 270.81L426.81 270.93L427.20 272.09L427.59 272.40L427.99 271.82L428.38 271.00L428.77 271.53L429.17 271.81L429.56 270.46L429.95 270.84L430.35 270.66L430.74 270.35L431.14 271.05L431.53 270.51L431.92 270.72L432.32 270.61L432.71 271.75L433.10 270.49L433.50 271.97L433.89 271.00L434.28 270.75L434.68 272.60L435.07 271.25L435.46 272.75L435.86 272.68L436.25 272.78L436.65 271.35L437.04 272.03L437.43 271.39L437.83 273.11L438.22 273.00L438.61 272.63L439.01 272.34L439.40 272.17L439.79 273.19L440.19 272.55L440.58 272.91L440.98 271.99L441.37 272.20L441.76 271.93L442.16 273.29L442.55 273.02L442.94 272.25L443.34 273.75L443.73 272.59L444.12 272.93L444.52 272.47L444.91 272.74L445.30 273.93L445.70 272.96L446.09 272.67L446.49 273.36L446.88 273.06L447.27 274.27L447.67 272.73L448.06 274.50L448.45 272.70L448.85 274.42L449.24 274.00L449.63 273.13L450.03 273.70L450.42 273.35L450.82 273.33L451.21 273.26L451.60 273.62L452.00 274.91L452.39 274.95L452.78 274.84L453.18 273.22L453.57 273.64L453.96 274.88L454.36 273.24L454.75 274.61L455.14 273.77L455.54 275.18L455.93 273.28L456.33 274.89L456.72 273.99L457.11 273.62L457.51 273.37L457.90 275.06L458.29 274.47L458.69 273.82L459.08 274.35L459.47 275.33L459.87 273.96L460.26 274.70L460.66 273.86L461.05 273.96L461.44 275.17L461.84 275.08L462.23 274.07L462.62 273.86L463.02 273.90L463.41 274.96L463.80 274.76L464.20 274.34L464.59 274.23L464.98 275.06L465.38 275.27L465.77 275.50L466.17 275.06L466.56 274.32L466.95 274.07L467.35 275.42L467.74 274.79L468.13 275.44L468.53 274.12L468.92 275.65L469.31 274.72L469.71 275.75L470.10 275.82L470.50 275.09L470.89 274.15L471.28 275.96L471.68 275.11L472.07 275.91L472.46 274.72L472.86 274.58L473.25 275.88L473.64 274.97L474.04 274.58L474.43 275.01L474.82 275.47L475.22 274.30L475.61 275.35L476.01 275.21L476.40 275.37L476.79 274.59L477.19 275.79L477.58 276.01L477.97 276.12L478.37 275.04L478.76 275.84L479.15 275.19L479.55 275.94" fill="none" stroke="#151515" stroke-width="1.8" stroke-linejoin="round"/>
<path d="M385.48 290.82L385.87 292.45L386.26 292.61L386.66 291.69L387.05 291.73L387.45 291.76L387.84 291.77L388.23 290.74L388.63 292.63L389.02 291.15L389.41 291.06L389.81 290.91L390.20 291.20L390.59 292.33L390.99 290.76L391.38 290.89L391.78 292.10L392.17 291.09L392.56 290.49L392.96 291.30L393.35 290.91L393.74 290.46L394.14 290.49L394.53 288.96L394.92 290.18L395.32 289.56L395.71 287.91L396.10 287.76L396.50 288.21L396.89 287.94L397.29 287.21L397.68 286.62L398.07 286.92L398.47 286.12L398.86 286.77L399.25 287.05L399.65 285.38L400.04 285.99L400.43 286.10L400.83 284.70L401.22 285.79L401.62 285.79L402.01 284.48L402.40 284.33L402.80 284.95L403.19 284.12L403.58 283.66L403.98 284.55L404.37 284.03L404.76 282.97L405.16 282.58L405.55 282.59L405.94 282.62L406.34 283.53L406.73 283.01L407.13 283.06L407.52 282.70L407.91 282.61L408.31 280.86L408.70 281.64L409.09 282.37L409.49 282.17L409.88 280.66L410.27 280.87L410.67 281.15L411.06 280.48L411.46 280.68L411.85 279.62L412.24 280.23L412.64 280.24L413.03 279.16L413.42 279.27L413.82 280.82L414.21 280.32L414.60 280.53L415.00 279.81L415.39 280.05L415.78 280.10L416.18 280.00L416.57 278.20L416.97 279.31L417.36 278.46L417.75 279.19L418.15 278.29L418.54 278.74L418.93 279.41L419.33 278.72L419.72 277.89L420.11 278.35L420.51 278.10L420.90 279.05L421.30 277.65L421.69 277.60L422.08 278.21L422.48 277.09L422.87 277.96L423.26 278.62L423.66 277.66L424.05 277.10L424.44 277.43L424.84 277.50L425.23 276.67L425.62 276.56L426.02 276.51L426.41 276.78L426.81 276.94L427.20 276.65L427.59 276.51L427.99 276.14L428.38 277.00L428.77 277.54L429.17 277.03L429.56 276.90L429.95 277.01L430.35 276.06L430.74 277.03L431.14 276.53L431.53 276.78L431.92 276.99L432.32 276.78L432.71 276.53L433.10 276.47L433.50 276.50L433.89 277.16L434.28 276.97L434.68 277.44L435.07 276.36L435.46 277.11L435.86 278.20L436.25 277.02L436.65 277.72L437.04 277.65L437.43 277.30L437.83 278.77L438.22 277.44L438.61 278.46L439.01 277.29L439.40 277.16L439.79 278.83L440.19 278.02L440.58 277.32L440.98 278.03L441.37 278.19L441.76 278.83L442.16 277.63L442.55 277.91L442.94 279.43L443.34 279.04L443.73 277.92L444.12 278.34L444.52 278.41L444.91 279.11L445.30 279.04L445.70 279.55L446.09 279.54L446.49 278.97L446.88 279.46L447.27 279.51L447.67 279.59L448.06 279.06L448.45 279.72L448.85 279.61L449.24 280.06L449.63 278.52L450.03 280.05L450.42 278.36L450.82 279.92L451.21 279.59L451.60 279.45L452.00 280.42L452.39 279.67L452.78 279.40L453.18 280.17L453.57 280.38L453.96 279.88L454.36 279.46L454.75 279.64L455.14 279.68L455.54 280.24L455.93 279.41L456.33 279.64L456.72 280.00L457.11 279.68L457.51 279.59L457.90 280.55L458.29 280.70L458.69 280.03L459.08 279.94L459.47 279.45L459.87 279.72L460.26 279.43L460.66 280.31L461.05 280.35L461.44 279.39L461.84 281.08L462.23 279.91L462.62 280.97L463.02 280.99L463.41 281.25L463.80 279.76L464.20 280.23L464.59 281.22L464.98 279.44L465.38 279.54L465.77 280.60L466.17 280.48L466.56 281.35L466.95 281.07L467.35 280.62L467.74 281.56L468.13 280.62L468.53 280.64L468.92 280.99L469.31 280.42L469.71 280.38L470.10 280.87L470.50 280.40L470.89 281.61L471.28 281.08L471.68 280.80L472.07 279.96L472.46 280.53L472.86 280.60L473.25 280.94L473.64 280.98L474.04 281.61L474.43 281.79L474.82 280.85L475.22 280.77L475.61 281.15L476.01 281.91L476.40 280.62L476.79 281.01L477.19 281.59L477.58 280.32L477.97 280.62L478.37 281.96L478.76 281.67L479.15 281.05L479.55 280.26" fill="none" stroke="#151515" stroke-width="1.8" stroke-linejoin="round"/>
<path d="M385.48 292.49L385.87 292.08L386.26 292.34L386.66 292.68L387.05 292.48L387.45 291.54L387.84 291.01L388.23 291.28L388.63 291.72L389.02 291.71L389.41 291.08L389.81 291.06L390.20 291.96L390.59 291.91L390.99 291.41L391.38 292.69L391.78 291.97L392.17 290.78L392.56 291.39L392.96 291.94L393.35 290.79L393.74 291.36L394.14 289.80L394.53 290.22L394.92 291.11L395.32 290.42L395.71 290.41L396.10 289.30L396.50 289.73L396.89 289.68L397.29 288.94L397.68 289.54L398.07 289.16L398.47 289.93L398.86 288.94L399.25 288.46L399.65 287.74L400.04 287.67L400.43 288.73L400.83 287.29L401.22 287.14L401.62 287.14L402.01 287.72L402.40 288.19L402.80 287.64L403.19 287.91L403.58 286.30L403.98 286.08L404.37 287.48L404.76 286.47L405.16 287.14L405.55 286.30L405.94 285.82L406.34 285.91L406.73 285.47L407.13 286.98L407.52 286.23L407.91 285.67L408.31 285.77L408.70 285.54L409.09 284.79L409.49 286.37L409.88 285.66L410.27 286.32L410.67 285.20L411.06 285.47L411.46 284.64L411.85 284.15L412.24 285.84L412.64 285.61L413.03 284.45L413.42 285.54L413.82 285.30L414.21 284.20L414.60 284.72L415.00 285.37L415.39 284.37L415.78 285.20L416.18 283.72L416.57 283.95L416.97 284.54L417.36 283.48L417.75 283.59L418.15 284.66L418.54 283.82L418.93 284.38L419.33 283.22L419.72 283.02L420.11 283.33L420.51 282.93L420.90 284.45L421.30 283.03L421.69 283.52L422.08 282.57L422.48 283.36L422.87 283.01L423.26 283.00L423.66 282.28L424.05 282.34L424.44 283.70L424.84 282.71L425.23 282.45L425.62 282.30L426.02 282.44L426.41 282.30L426.81 281.86L427.20 283.07L427.59 282.39L427.99 281.98L428.38 283.04L428.77 281.77L429.17 282.09L429.56 283.18L429.95 281.73L430.35 282.33L430.74 283.08L431.14 283.01L431.53 281.79L431.92 282.24L432.32 283.04L432.71 282.41L433.10 283.64L433.50 282.20L433.89 283.74L434.28 282.91L434.68 282.41L435.07 282.92L435.46 282.33L435.86 283.54L436.25 282.70L436.65 284.03L437.04 283.46L437.43 283.07L437.83 282.88L438.22 283.66L438.61 282.92L439.01 284.28L439.40 282.83L439.79 283.66L440.19 283.77L440.58 283.27L440.98 284.32L441.37 283.59L441.76 284.18L442.16 284.04L442.55 283.57L442.94 283.77L443.34 283.21L443.73 283.43L444.12 284.82L444.52 283.80L444.91 284.52L445.30 283.45L445.70 284.39L446.09 284.03L446.49 284.35L446.88 283.97L447.27 283.55L447.67 284.07L448.06 283.94L448.45 283.77L448.85 284.99L449.24 284.15L449.63 284.43L450.03 285.47L450.42 285.23L450.82 285.48L451.21 285.47L451.60 284.04L452.00 284.36L452.39 283.90L452.78 285.22L453.18 285.22L453.57 284.62L453.96 284.77L454.36 285.30L454.75 285.40L455.14 284.53L455.54 285.75L455.93 284.79L456.33 285.37L456.72 284.50L457.11 284.39L457.51 286.01L457.90 285.67L458.29 285.65L458.69 284.33L459.08 284.36L459.47 284.62L459.87 284.72L460.26 284.95L460.66 285.12L461.05 284.46L461.44 285.03L461.84 285.70L462.23 284.81L462.62 286.14L463.02 285.63L463.41 285.94L463.80 285.03L464.20 285.41L464.59 285.93L464.98 285.28L465.38 284.60L465.77 286.28L466.17 286.19L466.56 285.22L466.95 284.75L467.35 286.39L467.74 285.91L468.13 284.81L468.53 285.22L468.92 284.97L469.31 286.35L469.71 285.20L470.10 286.62L470.50 286.31L470.89 284.99L471.28 286.23L471.68 285.64L472.07 286.36L472.46 286.54L472.86 285.45L473.25 285.09L473.64 286.81L474.04 285.78L474.43 286.80L474.82 286.34L475.22 286.45L475.61 286.64L476.01 286.25L476.40 285.91L476.79 285.13L477.19 286.42L477.58 285.90L477.97 286.07L478.37 286.92L478.76 285.33L479.15 286.61L479.55 285.18" fill="none" stroke="#151515" stroke-width="1.8" stroke-linejoin="round"/>
<path d="M385.48 291.70L385.87 291.70L386.26 291.70L386.66 291.70L387.05 291.70L387.45 291.70L387.84 291.70L388.23 291.70L388.63 291.70L389.02 291.70L389.41 291.70L389.81 291.70L390.20 291.70L390.59 291.70L390.99 291.70L391.38 291.70L391.78 291.70L392.17 291.70L392.56 290.93L392.96 289.82L393.35 288.73L393.74 287.68L394.14 286.66L394.53 285.67L394.92 284.70L395.32 283.77L395.71 282.87L396.10 281.99L396.50 281.14L396.89 280.32L397.29 279.52L397.68 278.74L398.07 277.99L398.47 277.26L398.86 276.56L399.25 275.87L399.65 275.20L400.04 274.56L400.43 273.93L400.83 273.33L401.22 272.74L401.62 272.17L402.01 271.61L402.40 271.08L402.80 270.55L403.19 270.05L403.58 269.56L403.98 269.08L404.37 268.62L404.76 268.18L405.16 267.74L405.55 267.32L405.94 266.91L406.34 266.52L406.73 266.14L407.13 265.76L407.52 265.40L407.91 265.05L408.31 264.71L408.70 264.38L409.09 264.07L409.49 263.76L409.88 263.46L410.27 263.16L410.67 262.88L411.06 262.61L411.46 262.34L411.85 262.08L412.24 261.83L412.64 261.59L413.03 261.36L413.42 261.13L413.82 260.91L414.21 260.69L414.60 260.49L415.00 260.28L415.39 260.09L415.78 259.90L416.18 259.71L416.57 259.54L416.97 259.36L417.36 259.20L417.75 259.03L418.15 258.87L418.54 258.72L418.93 258.57L419.33 258.43L419.72 258.29L420.11 258.15L420.51 258.02L420.90 257.89L421.30 257.77L421.69 257.65L422.08 257.53L422.48 257.42L422.87 257.31L423.26 257.21L423.66 257.10L424.05 257.00L424.44 256.91L424.84 256.81L425.23 256.72L425.62 256.63L426.02 256.55L426.41 256.46L426.81 256.38L427.20 256.31L427.59 256.23L427.99 256.16L428.38 256.09L428.77 256.02L429.17 255.95L429.56 255.88L429.95 255.82L430.35 255.76L430.74 255.70L431.14 255.71L431.53 255.86L431.92 256.01L432.32 256.15L432.71 256.29L433.10 256.43L433.50 256.57L433.89 256.70L434.28 256.84L434.68 256.97L435.07 257.09L435.46 257.22L435.86 257.34L436.25 257.46L436.65 257.58L437.04 257.69L437.43 257.81L437.83 257.92L438.22 258.03L438.61 258.14L439.01 258.24L439.40 258.35L439.79 258.45L440.19 258.55L440.58 258.65L440.98 258.75L441.37 258.84L441.76 258.94L442.16 259.03L442.55 259.12L442.94 259.21L443.34 259.29L443.73 259.38L444.12 259.46L444.52 259.55L444.91 259.63L445.30 259.71L445.70 259.79L446.09 259.86L446.49 259.94L446.88 260.01L447.27 260.08L447.67 260.16L448.06 260.23L448.45 260.29L448.85 260.36L449.24 260.43L449.63 260.49L450.03 260.56L450.42 260.62L450.82 260.68L451.21 260.74L451.60 260.80L452.00 260.86L452.39 260.92L452.78 260.98L453.18 261.03L453.57 261.09L453.96 261.14L454.36 261.19L454.75 261.24L455.14 261.29L455.54 261.34L455.93 261.39L456.33 261.44L456.72 261.49L457.11 261.53L457.51 261.58L457.90 261.63L458.29 261.67L458.69 261.71L459.08 261.75L459.47 261.80L459.87 261.84L460.26 261.88L460.66 261.92L461.05 261.96L461.44 261.99L461.84 262.03L462.23 262.07L462.62 262.10L463.02 262.14L463.41 262.17L463.80 262.21L464.20 262.24L464.59 262.27L464.98 262.31L465.38 262.34L465.77 262.37L466.17 262.40L466.56 262.43L466.95 262.46L467.35 262.49L467.74 262.52L468.13 262.55L468.53 262.57L468.92 262.60L469.31 262.63L469.71 262.65L470.10 262.68L470.50 262.70L470.89 262.73L471.28 262.75L471.68 262.78L472.07 262.80L472.46 262.82L472.86 262.85L473.25 262.87L473.64 262.89L474.04 262.91L474.43 262.93L474.82 262.95L475.22 262.97L475.61 262.99L476.01 263.01L476.40 263.03L476.79 263.05L477.19 263.07L477.58 263.09L477.97 263.10L478.37 263.12L478.76 263.14L479.15 263.16L479.55 263.17" fill="none" stroke="#000" stroke-width="0.8"/>
<path d="M385.48 291.70L385.87 291.70L386.26 291.70L386.66 291.70L387.05 291.70L387.45 291.70L387.84 291.70L388.23 291.70L388.63 291.70L389.02 291.70L389.41 291.70L389.81 291.70L390.20 291.70L390.59 291.70L390.99 291.70L391.38 291.70L391.78 291.70L392.17 291.70L392.56 291.17L392.96 290.38L393.35 289.62L393.74 288.88L394.14 288.15L394.53 287.45L394.92 286.77L395.32 286.10L395.71 285.45L396.10 284.82L396.50 284.20L396.89 283.61L397.29 283.02L397.68 282.46L398.07 281.91L398.47 281.37L398.86 280.85L399.25 280.34L399.65 279.84L400.04 279.36L400.43 278.89L400.83 278.43L401.22 277.99L401.62 277.56L402.01 277.14L402.40 276.73L402.80 276.33L403.19 275.94L403.58 275.56L403.98 275.19L404.37 274.83L404.76 274.49L405.16 274.15L405.55 273.82L405.94 273.49L406.34 273.18L406.73 272.88L407.13 272.58L407.52 272.29L407.91 272.01L408.31 271.74L408.70 271.47L409.09 271.21L409.49 270.96L409.88 270.72L410.27 270.48L410.67 270.24L411.06 270.02L411.46 269.80L411.85 269.58L412.24 269.37L412.64 269.17L413.03 268.97L413.42 268.78L413.82 268.59L414.21 268.41L414.60 268.23L415.00 268.06L415.39 267.89L415.78 267.73L416.18 267.57L416.57 267.41L416.97 267.26L417.36 267.12L417.75 266.97L418.15 266.83L418.54 266.70L418.93 266.57L419.33 266.44L419.72 266.31L420.11 266.19L420.51 266.07L420.90 265.96L421.30 265.85L421.69 265.74L422.08 265.63L422.48 265.53L422.87 265.43L423.26 265.33L423.66 265.23L424.05 265.14L424.44 265.05L424.84 264.96L425.23 264.88L425.62 264.79L426.02 264.71L426.41 264.63L426.81 264.56L427.20 264.48L427.59 264.41L427.99 264.34L428.38 264.27L428.77 264.20L429.17 264.14L429.56 264.07L429.95 264.01L430.35 263.95L430.74 263.89L431.14 263.88L431.53 263.96L431.92 264.05L432.32 264.13L432.71 264.21L433.10 264.29L433.50 264.36L433.89 264.44L434.28 264.51L434.68 264.59L435.07 264.66L435.46 264.73L435.86 264.80L436.25 264.87L436.65 264.94L437.04 265.01L437.43 265.07L437.83 265.14L438.22 265.20L438.61 265.27L439.01 265.33L439.40 265.39L439.79 265.45L440.19 265.51L440.58 265.57L440.98 265.63L441.37 265.69L441.76 265.74L442.16 265.80L442.55 265.85L442.94 265.91L443.34 265.96L443.73 266.01L444.12 266.06L444.52 266.11L444.91 266.16L445.30 266.21L445.70 266.26L446.09 266.31L446.49 266.36L446.88 266.40L447.27 266.45L447.67 266.49L448.06 266.54L448.45 266.58L448.85 266.62L449.24 266.67L449.63 266.71L450.03 266.75L450.42 266.79L450.82 266.83L451.21 266.87L451.60 266.91L452.00 266.95L452.39 266.98L452.78 267.02L453.18 267.06L453.57 267.09L453.96 267.13L454.36 267.16L454.75 267.20L455.14 267.23L455.54 267.27L455.93 267.30L456.33 267.33L456.72 267.36L457.11 267.39L457.51 267.42L457.90 267.45L458.29 267.48L458.69 267.51L459.08 267.54L459.47 267.57L459.87 267.60L460.26 267.63L460.66 267.66L461.05 267.68L461.44 267.71L461.84 267.74L462.23 267.76L462.62 267.79L463.02 267.81L463.41 267.84L463.80 267.86L464.20 267.88L464.59 267.91L464.98 267.93L465.38 267.95L465.77 267.98L466.17 268.00L466.56 268.02L466.95 268.04L467.35 268.06L467.74 268.09L468.13 268.11L468.53 268.13L468.92 268.15L469.31 268.17L469.71 268.19L470.10 268.20L470.50 268.22L470.89 268.24L471.28 268.26L471.68 268.28L472.07 268.30L472.46 268.31L472.86 268.33L473.25 268.35L473.64 268.36L474.04 268.38L474.43 268.40L474.82 268.41L475.22 268.43L475.61 268.44L476.01 268.46L476.40 268.47L476.79 268.49L477.19 268.50L477.58 268.52L477.97 268.53L478.37 268.55L478.76 268.56L479.15 268.57L479.55 268.59" fill="none" stroke="#000" stroke-width="0.8"/>
<path d="M385.48 291.70L385.87 291.70L386.26 291.70L386.66 291.70L387.05 291.70L387.45 291.70L387.84 291.70L388.23 291.70L388.63 291.70L389.02 291.70L389.41 291.70L389.81 291.70L390.20 291.70L390.59 291.70L390.99 291.70L391.38 291.70L391.78 291.70L392.17 291.70L392.56 291.35L392.96 290.82L393.35 290.32L393.74 289.82L394.14 289.34L394.53 288.87L394.92 288.41L395.32 287.96L395.71 287.52L396.10 287.10L396.50 286.68L396.89 286.28L397.29 285.89L397.68 285.50L398.07 285.13L398.47 284.76L398.86 284.41L399.25 284.06L399.65 283.72L400.04 283.39L400.43 283.07L400.83 282.76L401.22 282.46L401.62 282.16L402.01 281.87L402.40 281.58L402.80 281.31L403.19 281.04L403.58 280.78L403.98 280.52L404.37 280.27L404.76 280.03L405.16 279.80L405.55 279.57L405.94 279.34L406.34 279.12L406.73 278.91L407.13 278.70L407.52 278.50L407.91 278.30L408.31 278.11L408.70 277.92L409.09 277.73L409.49 277.56L409.88 277.38L410.27 277.21L410.67 277.05L411.06 276.89L411.46 276.73L411.85 276.58L412.24 276.43L412.64 276.28L413.03 276.14L413.42 276.00L413.82 275.86L414.21 275.73L414.60 275.60L415.00 275.48L415.39 275.36L415.78 275.24L416.18 275.12L416.57 275.01L416.97 274.90L417.36 274.79L417.75 274.69L418.15 274.59L418.54 274.49L418.93 274.39L419.33 274.30L419.72 274.20L420.11 274.11L420.51 274.03L420.90 273.94L421.30 273.86L421.69 273.78L422.08 273.70L422.48 273.62L422.87 273.55L423.26 273.47L423.66 273.40L424.05 273.33L424.44 273.26L424.84 273.20L425.23 273.13L425.62 273.07L426.02 273.01L426.41 272.95L426.81 272.89L427.20 272.84L427.59 272.78L427.99 272.73L428.38 272.67L428.77 272.62L429.17 272.57L429.56 272.52L429.95 272.48L430.35 272.43L430.74 272.39L431.14 272.37L431.53 272.40L431.92 272.43L432.32 272.47L432.71 272.50L433.10 272.53L433.50 272.56L433.89 272.59L434.28 272.62L434.68 272.65L435.07 272.68L435.46 272.71L435.86 272.74L436.25 272.77L436.65 272.79L437.04 272.82L437.43 272.85L437.83 272.87L438.22 272.90L438.61 272.93L439.01 272.95L439.40 272.98L439.79 273.00L440.19 273.02L440.58 273.05L440.98 273.07L441.37 273.09L441.76 273.12L442.16 273.14L442.55 273.16L442.94 273.18L443.34 273.20L443.73 273.23L444.12 273.25L444.52 273.27L444.91 273.29L445.30 273.31L445.70 273.33L446.09 273.35L446.49 273.36L446.88 273.38L447.27 273.40L447.67 273.42L448.06 273.44L448.45 273.45L448.85 273.47L449.24 273.49L449.63 273.51L450.03 273.52L450.42 273.54L450.82 273.55L451.21 273.57L451.60 273.59L452.00 273.60L452.39 273.62L452.78 273.63L453.18 273.65L453.57 273.66L453.96 273.67L454.36 273.69L454.75 273.70L455.14 273.72L455.54 273.73L455.93 273.74L456.33 273.76L456.72 273.77L457.11 273.78L457.51 273.79L457.90 273.81L458.29 273.82L458.69 273.83L459.08 273.84L459.47 273.85L459.87 273.86L460.26 273.88L460.66 273.89L461.05 273.90L461.44 273.91L461.84 273.92L462.23 273.93L462.62 273.94L463.02 273.95L463.41 273.96L463.80 273.97L464.20 273.98L464.59 273.99L464.98 274.00L465.38 274.01L465.77 274.02L466.17 274.03L466.56 274.03L466.95 274.04L467.35 274.05L467.74 274.06L468.13 274.07L468.53 274.08L468.92 274.08L469.31 274.09L469.71 274.10L470.10 274.11L470.50 274.12L470.89 274.12L471.28 274.13L471.68 274.14L472.07 274.14L472.46 274.15L472.86 274.16L473.25 274.17L473.64 274.17L474.04 274.18L474.43 274.19L474.82 274.19L475.22 274.20L475.61 274.20L476.01 274.21L476.40 274.22L476.79 274.22L477.19 274.23L477.58 274.23L477.97 274.24L478.37 274.25L478.76 274.25L479.15 274.26L479.55 274.26" fill="none" stroke="#000" stroke-width="0.8"/>
<path d="M385.48 291.70L385.87 291.70L386.26 291.70L386.66 291.70L387.05 291.70L387.45 291.70L387.84 291.70L388.23 291.70L388.63 291.70L389.02 291.70L389.41 291.70L389.81 291.70L390.20 291.70L390.59 291.70L390.99 291.70L391.38 291.70L391.78 291.70L392.17 291.70L392.56 291.47L392.96 291.13L393.35 290.80L393.74 290.48L394.14 290.16L394.53 289.85L394.92 289.55L395.32 289.25L395.71 288.96L396.10 288.68L396.50 288.40L396.89 288.13L397.29 287.87L397.68 287.61L398.07 287.36L398.47 287.11L398.86 286.87L399.25 286.63L399.65 286.40L400.04 286.18L400.43 285.96L400.83 285.74L401.22 285.53L401.62 285.32L402.01 285.12L402.40 284.92L402.80 284.73L403.19 284.54L403.58 284.36L403.98 284.18L404.37 284.00L404.76 283.83L405.16 283.66L405.55 283.50L405.94 283.34L406.34 283.18L406.73 283.02L407.13 282.87L407.52 282.73L407.91 282.58L408.31 282.44L408.70 282.30L409.09 282.17L409.49 282.04L409.88 281.91L410.27 281.78L410.67 281.66L411.06 281.54L411.46 281.42L411.85 281.31L412.24 281.20L412.64 281.09L413.03 280.98L413.42 280.87L413.82 280.77L414.21 280.67L414.60 280.57L415.00 280.48L415.39 280.38L415.78 280.29L416.18 280.20L416.57 280.11L416.97 280.03L417.36 279.94L417.75 279.86L418.15 279.78L418.54 279.70L418.93 279.63L419.33 279.55L419.72 279.48L420.11 279.41L420.51 279.34L420.90 279.27L421.30 279.20L421.69 279.13L422.08 279.07L422.48 279.01L422.87 278.95L423.26 278.89L423.66 278.83L424.05 278.77L424.44 278.71L424.84 278.66L425.23 278.61L425.62 278.55L426.02 278.50L426.41 278.45L426.81 278.40L427.20 278.36L427.59 278.31L427.99 278.26L428.38 278.22L428.77 278.18L429.17 278.13L429.56 278.09L429.95 278.05L430.35 278.01L430.74 277.97L431.14 277.96L431.53 277.98L431.92 278.01L432.32 278.03L432.71 278.06L433.10 278.09L433.50 278.11L433.89 278.14L434.28 278.16L434.68 278.18L435.07 278.21L435.46 278.23L435.86 278.25L436.25 278.28L436.65 278.30L437.04 278.32L437.43 278.34L437.83 278.36L438.22 278.38L438.61 278.40L439.01 278.42L439.40 278.44L439.79 278.46L440.19 278.48L440.58 278.50L440.98 278.52L441.37 278.54L441.76 278.56L442.16 278.58L442.55 278.59L442.94 278.61L443.34 278.63L443.73 278.65L444.12 278.66L444.52 278.68L444.91 278.69L445.30 278.71L445.70 278.73L446.09 278.74L446.49 278.76L446.88 278.77L447.27 278.79L447.67 278.80L448.06 278.82L448.45 278.83L448.85 278.84L449.24 278.86L449.63 278.87L450.03 278.88L450.42 278.90L450.82 278.91L451.21 278.92L451.60 278.94L452.00 278.95L452.39 278.96L452.78 278.97L453.18 278.98L453.57 279.00L453.96 279.01L454.36 279.02L454.75 279.03L455.14 279.04L455.54 279.05L455.93 279.06L456.33 279.07L456.72 279.08L457.11 279.09L457.51 279.10L457.90 279.11L458.29 279.12L458.69 279.13L459.08 279.14L459.47 279.15L459.87 279.16L460.26 279.17L460.66 279.18L461.05 279.19L461.44 279.20L461.84 279.20L462.23 279.21L462.62 279.22L463.02 279.23L463.41 279.24L463.80 279.24L464.20 279.25L464.59 279.26L464.98 279.27L465.38 279.27L465.77 279.28L466.17 279.29L466.56 279.30L466.95 279.30L467.35 279.31L467.74 279.32L468.13 279.32L468.53 279.33L468.92 279.34L469.31 279.34L469.71 279.35L470.10 279.36L470.50 279.36L470.89 279.37L471.28 279.37L471.68 279.38L472.07 279.39L472.46 279.39L472.86 279.40L473.25 279.40L473.64 279.41L474.04 279.41L474.43 279.42L474.82 279.42L475.22 279.43L475.61 279.43L476.01 279.44L476.40 279.44L476.79 279.45L477.19 279.45L477.58 279.46L477.97 279.46L478.37 279.47L478.76 279.47L479.15 279.48L479.55 279.48" fill="none" stroke="#000" stroke-width="0.8"/>
<path d="M385.48 291.70L385.87 291.70L386.26 291.70L386.66 291.70L387.05 291.70L387.45 291.70L387.84 291.70L388.23 291.70L388.63 291.70L389.02 291.70L389.41 291.70L389.81 291.70L390.20 291.70L390.59 291.70L390.99 291.70L391.38 291.70L391.78 291.70L392.17 291.70L392.56 291.58L392.96 291.41L393.35 291.24L393.74 291.08L394.14 290.91L394.53 290.75L394.92 290.60L395.32 290.45L395.71 290.30L396.10 290.15L396.50 290.01L396.89 289.87L397.29 289.73L397.68 289.60L398.07 289.47L398.47 289.34L398.86 289.21L399.25 289.09L399.65 288.97L400.04 288.85L400.43 288.73L400.83 288.62L401.22 288.51L401.62 288.40L402.01 288.29L402.40 288.19L402.80 288.09L403.19 287.99L403.58 287.89L403.98 287.79L404.37 287.70L404.76 287.61L405.16 287.52L405.55 287.43L405.94 287.34L406.34 287.26L406.73 287.18L407.13 287.10L407.52 287.02L407.91 286.94L408.31 286.86L408.70 286.79L409.09 286.71L409.49 286.64L409.88 286.57L410.27 286.50L410.67 286.44L411.06 286.37L411.46 286.31L411.85 286.24L412.24 286.18L412.64 286.12L413.03 286.06L413.42 286.01L413.82 285.95L414.21 285.89L414.60 285.84L415.00 285.79L415.39 285.73L415.78 285.68L416.18 285.63L416.57 285.58L416.97 285.54L417.36 285.49L417.75 285.44L418.15 285.40L418.54 285.35L418.93 285.31L419.33 285.27L419.72 285.23L420.11 285.19L420.51 285.15L420.90 285.11L421.30 285.07L421.69 285.03L422.08 285.00L422.48 284.96L422.87 284.92L423.26 284.89L423.66 284.86L424.05 284.82L424.44 284.79L424.84 284.76L425.23 284.73L425.62 284.70L426.02 284.67L426.41 284.64L426.81 284.61L427.20 284.58L427.59 284.56L427.99 284.53L428.38 284.50L428.77 284.48L429.17 284.45L429.56 284.43L429.95 284.41L430.35 284.38L430.74 284.36L431.14 284.35L431.53 284.36L431.92 284.36L432.32 284.37L432.71 284.38L433.10 284.39L433.50 284.40L433.89 284.40L434.28 284.41L434.68 284.42L435.07 284.43L435.46 284.43L435.86 284.44L436.25 284.45L436.65 284.45L437.04 284.46L437.43 284.47L437.83 284.47L438.22 284.48L438.61 284.49L439.01 284.49L439.40 284.50L439.79 284.51L440.19 284.51L440.58 284.52L440.98 284.52L441.37 284.53L441.76 284.54L442.16 284.54L442.55 284.55L442.94 284.55L443.34 284.56L443.73 284.56L444.12 284.57L444.52 284.57L444.91 284.58L445.30 284.58L445.70 284.59L446.09 284.59L446.49 284.60L446.88 284.60L447.27 284.61L447.67 284.61L448.06 284.62L448.45 284.62L448.85 284.63L449.24 284.63L449.63 284.63L450.03 284.64L450.42 284.64L450.82 284.65L451.21 284.65L451.60 284.65L452.00 284.66L452.39 284.66L452.78 284.67L453.18 284.67L453.57 284.67L453.96 284.68L454.36 284.68L454.75 284.68L455.14 284.69L455.54 284.69L455.93 284.69L456.33 284.70L456.72 284.70L457.11 284.70L457.51 284.71L457.90 284.71L458.29 284.71L458.69 284.72L459.08 284.72L459.47 284.72L459.87 284.72L460.26 284.73L460.66 284.73L461.05 284.73L461.44 284.74L461.84 284.74L462.23 284.74L462.62 284.74L463.02 284.75L463.41 284.75L463.80 284.75L464.20 284.75L464.59 284.76L464.98 284.76L465.38 284.76L465.77 284.76L466.17 284.76L466.56 284.77L466.95 284.77L467.35 284.77L467.74 284.77L468.13 284.78L468.53 284.78L468.92 284.78L469.31 284.78L469.71 284.78L470.10 284.79L470.50 284.79L470.89 284.79L471.28 284.79L471.68 284.79L472.07 284.79L472.46 284.80L472.86 284.80L473.25 284.80L473.64 284.80L474.04 284.80L474.43 284.81L474.82 284.81L475.22 284.81L475.61 284.81L476.01 284.81L476.40 284.81L476.79 284.81L477.19 284.82L477.58 284.82L477.97 284.82L478.37 284.82L478.76 284.82L479.15 284.82L479.55 284.82" fill="none" stroke="#000" stroke-width="0.8"/>
<line x1="385.48" y1="291.70" x2="479.55" y2="291.70" stroke="#444" stroke-width="1.0"/>
</svg></body></html>
